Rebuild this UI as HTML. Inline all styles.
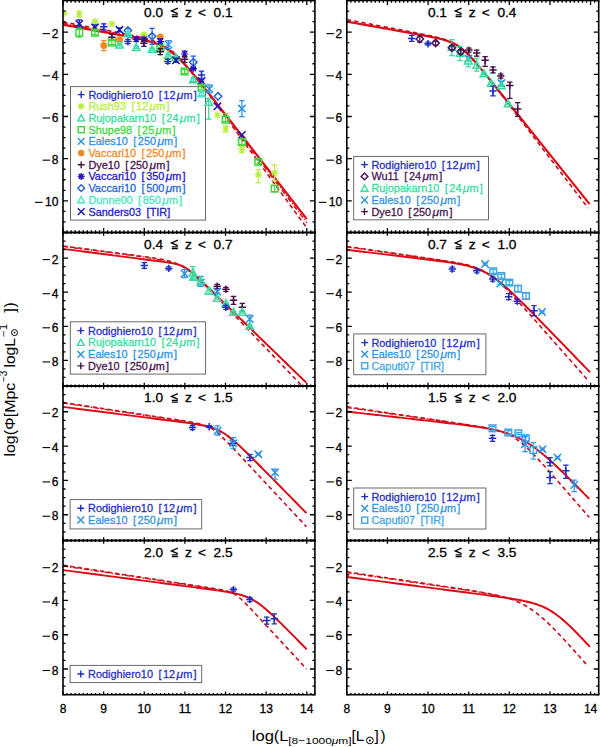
<!DOCTYPE html><html><head><meta charset="utf-8"><style>html,body{margin:0;padding:0;background:#fff;overflow:hidden}svg{display:block}</style></head><body><svg width="600" height="747" viewBox="0 0 600 747" font-family='"Liberation Sans", sans-serif'>
<rect width="600" height="747" fill="#fff"/>
<rect x="70.5" y="86.6" width="135" height="133.5" fill="none" stroke="#6a6a6a" stroke-width="1"/>
<path d="M77.8 94.6h6.8M81.2 91.2v6.8" stroke="#1f2ec0" stroke-width="1.4" fill="none"/>
<text transform="translate(88.4,98.5) scale(1.04,1)" font-size="10.5" fill="#1f2ec0" stroke="#1f2ec0" stroke-width="0.25">Rodighiero10<tspan dx="2.3"> [</tspan><tspan dx="1.5">12</tspan><tspan dx="1.3" font-size="11.5" font-style="italic">&#956;</tspan><tspan dx="0.1">m</tspan><tspan dx="1.1">]</tspan></text>
<path d="M77.8 106.3h6.8M81.2 102.9v6.8M78.75 103.85l4.9 4.9M78.75 108.75l4.9 -4.9" stroke="#b8ee40" stroke-width="1.4" fill="none"/>
<text transform="translate(88.4,110.2) scale(1.04,1)" font-size="10.5" fill="#b8ee40" stroke="#b8ee40" stroke-width="0.25">Rush93<tspan dx="2.3"> [</tspan><tspan dx="1.5">12</tspan><tspan dx="1.3" font-size="11.5" font-style="italic">&#956;</tspan><tspan dx="0.1">m</tspan><tspan dx="1.1">]</tspan></text>
<path d="M81.2 114.6L84.6 120.89H77.8Z" stroke="#36dca0" stroke-width="1.4" fill="none"/>
<text transform="translate(88.4,121.9) scale(1.04,1)" font-size="10.5" fill="#36dca0" stroke="#36dca0" stroke-width="0.25">Rujopakarn10<tspan dx="2.3"> [</tspan><tspan dx="1.5">24</tspan><tspan dx="1.3" font-size="11.5" font-style="italic">&#956;</tspan><tspan dx="0.1">m</tspan><tspan dx="1.1">]</tspan></text>
<rect x="78.14" y="126.64" width="6.12" height="6.12" stroke="#3cd83c" stroke-width="1.4" fill="none"/>
<text transform="translate(88.4,133.6) scale(1.04,1)" font-size="10.5" fill="#3cd83c" stroke="#3cd83c" stroke-width="0.25">Shupe98<tspan dx="2.3"> [</tspan><tspan dx="1.5">25</tspan><tspan dx="1.3" font-size="11.5" font-style="italic">&#956;</tspan><tspan dx="0.1">m</tspan><tspan dx="1.1">]</tspan></text>
<path d="M77.8 138l6.8 6.8M77.8 144.8l6.8 -6.8" stroke="#2c92e0" stroke-width="1.4" fill="none"/>
<text transform="translate(88.4,145.3) scale(1.04,1)" font-size="10.5" fill="#2c92e0" stroke="#2c92e0" stroke-width="0.25">Eales10<tspan dx="2.3"> [</tspan><tspan dx="1.5">250</tspan><tspan dx="1.3" font-size="11.5" font-style="italic">&#956;</tspan><tspan dx="0.1">m</tspan><tspan dx="1.1">]</tspan></text>
<circle cx="81.2" cy="153.1" r="3.23" fill="#f08a22"/>
<text transform="translate(88.4,157) scale(1.04,1)" font-size="10.5" fill="#f08a22" stroke="#f08a22" stroke-width="0.25">Vaccari10<tspan dx="2.3"> [</tspan><tspan dx="1.5">250</tspan><tspan dx="1.3" font-size="11.5" font-style="italic">&#956;</tspan><tspan dx="0.1">m</tspan><tspan dx="1.1">]</tspan></text>
<path d="M77.8 164.8h6.8M81.2 161.4v6.8" stroke="#461046" stroke-width="1.4" fill="none"/>
<text transform="translate(88.4,168.7) scale(1.04,1)" font-size="10.5" fill="#461046" stroke="#461046" stroke-width="0.25">Dye10<tspan dx="2.3"> [</tspan><tspan dx="1.5">250</tspan><tspan dx="1.3" font-size="11.5" font-style="italic">&#956;</tspan><tspan dx="0.1">m</tspan><tspan dx="1.1">]</tspan></text>
<path d="M77.8 176.5h6.8M81.2 173.1v6.8M78.75 174.05l4.9 4.9M78.75 178.95l4.9 -4.9" stroke="#2412c4" stroke-width="1.4" fill="none"/>
<text transform="translate(88.4,180.4) scale(1.04,1)" font-size="10.5" fill="#2412c4" stroke="#2412c4" stroke-width="0.25">Vaccari10<tspan dx="2.3"> [</tspan><tspan dx="1.5">350</tspan><tspan dx="1.3" font-size="11.5" font-style="italic">&#956;</tspan><tspan dx="0.1">m</tspan><tspan dx="1.1">]</tspan></text>
<path d="M81.2 184.8L84.6 188.2L81.2 191.6L77.8 188.2Z" stroke="#2462d4" stroke-width="1.4" fill="none"/>
<text transform="translate(88.4,192.1) scale(1.04,1)" font-size="10.5" fill="#2462d4" stroke="#2462d4" stroke-width="0.25">Vaccari10<tspan dx="2.3"> [</tspan><tspan dx="1.5">500</tspan><tspan dx="1.3" font-size="11.5" font-style="italic">&#956;</tspan><tspan dx="0.1">m</tspan><tspan dx="1.1">]</tspan></text>
<path d="M81.2 196.5L84.6 202.79H77.8Z" stroke="#44e6c4" stroke-width="1.4" fill="none"/>
<text transform="translate(88.4,203.8) scale(1.04,1)" font-size="10.5" fill="#44e6c4" stroke="#44e6c4" stroke-width="0.25">Dunne00<tspan dx="2.3"> [</tspan><tspan dx="1.5">850</tspan><tspan dx="1.3" font-size="11.5" font-style="italic">&#956;</tspan><tspan dx="0.1">m</tspan><tspan dx="1.1">]</tspan></text>
<path d="M77.8 208.2l6.8 6.8M77.8 215l6.8 -6.8" stroke="#1a1ab4" stroke-width="1.4" fill="none"/>
<text transform="translate(88.4,215.5) scale(1.04,1)" font-size="10.5" fill="#1a1ab4" stroke="#1a1ab4" stroke-width="0.25">Sanders03<tspan dx="2.3"> [TIR]</tspan></text>
<rect x="353.7" y="156.4" width="134.8" height="63.4" fill="none" stroke="#6a6a6a" stroke-width="1"/>
<path d="M361.1 164.6h6.8M364.5 161.2v6.8" stroke="#1f2ec0" stroke-width="1.4" fill="none"/>
<text transform="translate(371.4,168.5) scale(1.04,1)" font-size="10.5" fill="#1f2ec0" stroke="#1f2ec0" stroke-width="0.25">Rodighiero10<tspan dx="2.3"> [</tspan><tspan dx="1.5">12</tspan><tspan dx="1.3" font-size="11.5" font-style="italic">&#956;</tspan><tspan dx="0.1">m</tspan><tspan dx="1.1">]</tspan></text>
<path d="M364.5 173L367.9 176.4L364.5 179.8L361.1 176.4Z" stroke="#481458" stroke-width="1.4" fill="none"/>
<text transform="translate(371.4,180.3) scale(1.04,1)" font-size="10.5" fill="#481458" stroke="#481458" stroke-width="0.25">Wu11<tspan dx="2.3"> [</tspan><tspan dx="1.5">24</tspan><tspan dx="1.3" font-size="11.5" font-style="italic">&#956;</tspan><tspan dx="0.1">m</tspan><tspan dx="1.1">]</tspan></text>
<path d="M364.5 184.9L367.9 191.19H361.1Z" stroke="#36dca0" stroke-width="1.4" fill="none"/>
<text transform="translate(371.4,192.2) scale(1.04,1)" font-size="10.5" fill="#36dca0" stroke="#36dca0" stroke-width="0.25">Rujopakarn10<tspan dx="2.3"> [</tspan><tspan dx="1.5">24</tspan><tspan dx="1.3" font-size="11.5" font-style="italic">&#956;</tspan><tspan dx="0.1">m</tspan><tspan dx="1.1">]</tspan></text>
<path d="M361.1 196.6l6.8 6.8M361.1 203.4l6.8 -6.8" stroke="#2c92e0" stroke-width="1.4" fill="none"/>
<text transform="translate(371.4,203.9) scale(1.04,1)" font-size="10.5" fill="#2c92e0" stroke="#2c92e0" stroke-width="0.25">Eales10<tspan dx="2.3"> [</tspan><tspan dx="1.5">250</tspan><tspan dx="1.3" font-size="11.5" font-style="italic">&#956;</tspan><tspan dx="0.1">m</tspan><tspan dx="1.1">]</tspan></text>
<path d="M361.1 211.6h6.8M364.5 208.2v6.8" stroke="#461046" stroke-width="1.4" fill="none"/>
<text transform="translate(371.4,215.5) scale(1.04,1)" font-size="10.5" fill="#461046" stroke="#461046" stroke-width="0.25">Dye10<tspan dx="2.3"> [</tspan><tspan dx="1.5">250</tspan><tspan dx="1.3" font-size="11.5" font-style="italic">&#956;</tspan><tspan dx="0.1">m</tspan><tspan dx="1.1">]</tspan></text>
<rect x="70.3" y="321.8" width="135.3" height="52.3" fill="none" stroke="#6a6a6a" stroke-width="1"/>
<path d="M77.4 330.6h6.8M80.8 327.2v6.8" stroke="#1f2ec0" stroke-width="1.4" fill="none"/>
<text transform="translate(88.1,334.5) scale(1.04,1)" font-size="10.5" fill="#1f2ec0" stroke="#1f2ec0" stroke-width="0.25">Rodighiero10<tspan dx="2.3"> [</tspan><tspan dx="1.5">12</tspan><tspan dx="1.3" font-size="11.5" font-style="italic">&#956;</tspan><tspan dx="0.1">m</tspan><tspan dx="1.1">]</tspan></text>
<path d="M80.8 339.1L84.2 345.39H77.4Z" stroke="#36dca0" stroke-width="1.4" fill="none"/>
<text transform="translate(88.1,346.4) scale(1.04,1)" font-size="10.5" fill="#36dca0" stroke="#36dca0" stroke-width="0.25">Rujopakarn10<tspan dx="2.3"> [</tspan><tspan dx="1.5">24</tspan><tspan dx="1.3" font-size="11.5" font-style="italic">&#956;</tspan><tspan dx="0.1">m</tspan><tspan dx="1.1">]</tspan></text>
<path d="M77.4 350.9l6.8 6.8M77.4 357.7l6.8 -6.8" stroke="#2c92e0" stroke-width="1.4" fill="none"/>
<text transform="translate(88.1,358.2) scale(1.04,1)" font-size="10.5" fill="#2c92e0" stroke="#2c92e0" stroke-width="0.25">Eales10<tspan dx="2.3"> [</tspan><tspan dx="1.5">250</tspan><tspan dx="1.3" font-size="11.5" font-style="italic">&#956;</tspan><tspan dx="0.1">m</tspan><tspan dx="1.1">]</tspan></text>
<path d="M77.4 365.9h6.8M80.8 362.5v6.8" stroke="#461046" stroke-width="1.4" fill="none"/>
<text transform="translate(88.1,369.8) scale(1.04,1)" font-size="10.5" fill="#461046" stroke="#461046" stroke-width="0.25">Dye10<tspan dx="2.3"> [</tspan><tspan dx="1.5">250</tspan><tspan dx="1.3" font-size="11.5" font-style="italic">&#956;</tspan><tspan dx="0.1">m</tspan><tspan dx="1.1">]</tspan></text>
<rect x="353.7" y="333.9" width="132.2" height="40.8" fill="none" stroke="#6a6a6a" stroke-width="1"/>
<path d="M361.3 342.6h6.8M364.7 339.2v6.8" stroke="#1f2ec0" stroke-width="1.4" fill="none"/>
<text transform="translate(371.4,346.5) scale(1.04,1)" font-size="10.5" fill="#1f2ec0" stroke="#1f2ec0" stroke-width="0.25">Rodighiero10<tspan dx="2.3"> [</tspan><tspan dx="1.5">12</tspan><tspan dx="1.3" font-size="11.5" font-style="italic">&#956;</tspan><tspan dx="0.1">m</tspan><tspan dx="1.1">]</tspan></text>
<path d="M361.3 350.8l6.8 6.8M361.3 357.6l6.8 -6.8" stroke="#2c92e0" stroke-width="1.4" fill="none"/>
<text transform="translate(371.4,358.1) scale(1.04,1)" font-size="10.5" fill="#2c92e0" stroke="#2c92e0" stroke-width="0.25">Eales10<tspan dx="2.3"> [</tspan><tspan dx="1.5">250</tspan><tspan dx="1.3" font-size="11.5" font-style="italic">&#956;</tspan><tspan dx="0.1">m</tspan><tspan dx="1.1">]</tspan></text>
<rect x="361.64" y="362.74" width="6.12" height="6.12" stroke="#40a6e2" stroke-width="1.4" fill="none"/>
<text transform="translate(371.4,369.7) scale(1.04,1)" font-size="10.5" fill="#40a6e2" stroke="#40a6e2" stroke-width="0.25">Caputi07<tspan dx="2.3"> [TIR]</tspan></text>
<rect x="70.1" y="499.6" width="131.6" height="29.3" fill="none" stroke="#6a6a6a" stroke-width="1"/>
<path d="M77.4 508.2h6.8M80.8 504.8v6.8" stroke="#1f2ec0" stroke-width="1.4" fill="none"/>
<text transform="translate(88.1,512.1) scale(1.04,1)" font-size="10.5" fill="#1f2ec0" stroke="#1f2ec0" stroke-width="0.25">Rodighiero10<tspan dx="2.3"> [</tspan><tspan dx="1.5">12</tspan><tspan dx="1.3" font-size="11.5" font-style="italic">&#956;</tspan><tspan dx="0.1">m</tspan><tspan dx="1.1">]</tspan></text>
<path d="M77.4 516.6l6.8 6.8M77.4 523.4l6.8 -6.8" stroke="#2c92e0" stroke-width="1.4" fill="none"/>
<text transform="translate(88.1,523.9) scale(1.04,1)" font-size="10.5" fill="#2c92e0" stroke="#2c92e0" stroke-width="0.25">Eales10<tspan dx="2.3"> [</tspan><tspan dx="1.5">250</tspan><tspan dx="1.3" font-size="11.5" font-style="italic">&#956;</tspan><tspan dx="0.1">m</tspan><tspan dx="1.1">]</tspan></text>
<rect x="353.7" y="488" width="132.2" height="41" fill="none" stroke="#6a6a6a" stroke-width="1"/>
<path d="M361.3 496.6h6.8M364.7 493.2v6.8" stroke="#1f2ec0" stroke-width="1.4" fill="none"/>
<text transform="translate(371.4,500.5) scale(1.04,1)" font-size="10.5" fill="#1f2ec0" stroke="#1f2ec0" stroke-width="0.25">Rodighiero10<tspan dx="2.3"> [</tspan><tspan dx="1.5">12</tspan><tspan dx="1.3" font-size="11.5" font-style="italic">&#956;</tspan><tspan dx="0.1">m</tspan><tspan dx="1.1">]</tspan></text>
<path d="M361.3 505l6.8 6.8M361.3 511.8l6.8 -6.8" stroke="#2c92e0" stroke-width="1.4" fill="none"/>
<text transform="translate(371.4,512.3) scale(1.04,1)" font-size="10.5" fill="#2c92e0" stroke="#2c92e0" stroke-width="0.25">Eales10<tspan dx="2.3"> [</tspan><tspan dx="1.5">250</tspan><tspan dx="1.3" font-size="11.5" font-style="italic">&#956;</tspan><tspan dx="0.1">m</tspan><tspan dx="1.1">]</tspan></text>
<rect x="361.64" y="517.14" width="6.12" height="6.12" stroke="#40a6e2" stroke-width="1.4" fill="none"/>
<text transform="translate(371.4,524.1) scale(1.04,1)" font-size="10.5" fill="#40a6e2" stroke="#40a6e2" stroke-width="0.25">Caputi07<tspan dx="2.3"> [TIR]</tspan></text>
<rect x="70.1" y="665.4" width="131.6" height="17.2" fill="none" stroke="#6a6a6a" stroke-width="1"/>
<path d="M77.4 674h6.8M80.8 670.6v6.8" stroke="#1f2ec0" stroke-width="1.4" fill="none"/>
<text transform="translate(88.1,677.9) scale(1.04,1)" font-size="10.5" fill="#1f2ec0" stroke="#1f2ec0" stroke-width="0.25">Rodighiero10<tspan dx="2.3"> [</tspan><tspan dx="1.5">12</tspan><tspan dx="1.3" font-size="11.5" font-style="italic">&#956;</tspan><tspan dx="0.1">m</tspan><tspan dx="1.1">]</tspan></text>
<clipPath id="c00"><rect x="63" y="0.5" width="251.91" height="232"/></clipPath>
<g clip-path="url(#c00)">
<path d="M63 24.73 L65 25.09 L67 25.45 L69 25.81 L71 26.17 L73 26.53 L75 26.89 L77 27.25 L79 27.61 L81 27.97 L83 28.33 L85 28.69 L87 29.05 L89 29.41 L91 29.78 L93 30.14 L95 30.5 L97 30.86 L99 31.22 L101 31.58 L103 31.94 L105 32.3 L107 32.67 L109 33.03 L111 33.4 L113 33.76 L115 34.13 L117 34.5 L119 34.87 L121 35.24 L123 35.61 L125 35.99 L127 36.37 L129 36.76 L131 37.16 L133 37.56 L135 37.97 L137 38.39 L139 38.83 L141 39.28 L143 39.75 L145 40.25 L147 40.77 L149 41.33 L151 41.93 L153 42.57 L155 43.27 L157 44.04 L159 44.87 L161 45.79 L163 46.8 L165 47.9 L167 49.11 L169 50.43 L171 51.86 L173 53.41 L175 55.06 L177 56.83 L179 58.69 L181 60.65 L183 62.7 L185 64.82 L187 67.01 L189 69.26 L191 71.57 L193 73.92 L195 76.3 L197 78.72 L199 81.16 L201 83.63 L203 86.12 L205 88.62 L207 91.13 L209 93.65 L211 96.18 L213 98.72 L215 101.27 L217 103.82 L219 106.37 L221 108.93 L223 111.48 L225 114.04 L227 116.61 L229 119.17 L231 121.74 L233 124.3 L235 126.87 L237 129.44 L239 132 L241 134.57 L243 137.14 L245 139.71 L247 142.28 L249 144.85 L251 147.42 L253 149.99 L255 152.56 L257 155.13 L259 157.7 L261 160.27 L263 162.83 L265 165.4 L267 167.97 L269 170.54 L271 173.11 L273 175.68 L275 178.25 L277 180.82 L279 183.39 L281 185.96 L283 188.53 L285 191.1 L287 193.67 L289 196.24 L291 198.81 L293 201.38 L295 203.95 L297 206.52 L299 209.09 L301 211.66 L303 214.23 L305 216.8 L306.8 219.12" stroke="#dc0c16" stroke-width="2.2" fill="none" stroke-linejoin="round"/>
<path d="M63 21.98 L65 22.36 L67 22.74 L69 23.12 L71 23.5 L73 23.88 L75 24.26 L77 24.64 L79 25.02 L81 25.4 L83 25.78 L85 26.16 L87 26.54 L89 26.92 L91 27.3 L93 27.68 L95 28.06 L97 28.45 L99 28.83 L101 29.21 L103 29.59 L105 29.97 L107 30.36 L109 30.74 L111 31.12 L113 31.51 L115 31.9 L117 32.28 L119 32.68 L121 33.07 L123 33.46 L125 33.86 L127 34.26 L129 34.67 L131 35.09 L133 35.51 L135 35.94 L137 36.39 L139 36.84 L141 37.32 L143 37.81 L145 38.33 L147 38.88 L149 39.46 L151 40.09 L153 40.76 L155 41.49 L157 42.28 L159 43.16 L161 44.11 L163 45.16 L165 46.31 L167 47.57 L169 48.95 L171 50.44 L173 52.06 L175 53.79 L177 55.64 L179 57.6 L181 59.66 L183 61.82 L185 64.05 L187 66.37 L189 68.75 L191 71.19 L193 73.67 L195 76.2 L197 78.76 L199 81.35 L201 83.97 L203 86.6 L205 89.26 L207 91.92 L209 94.6 L211 97.29 L213 99.98 L215 102.68 L217 105.39 L219 108.1 L221 110.82 L223 113.54 L225 116.25 L227 118.98 L229 121.7 L231 124.42 L233 127.15 L235 129.88 L237 132.6 L239 135.33 L241 138.06 L243 140.79 L245 143.52 L247 146.24 L249 148.97 L251 151.7 L253 154.43 L255 157.16 L257 159.89 L259 162.62 L261 165.35 L263 168.08 L265 170.81 L267 173.54 L269 176.27 L271 179 L273 181.73 L275 184.46 L277 187.19 L279 189.92 L281 192.65 L283 195.38 L285 198.11 L287 200.84 L289 203.57 L291 206.3 L293 209.03 L295 211.76 L297 214.49 L299 217.22 L301 219.95 L303 222.68 L305 225.41 L306.8 227.87" stroke="#c80c1a" stroke-width="1.6" fill="none" stroke-dasharray="4.3 3.2"/>
<path d="M63 23.36 L65 23.73 L67 24.1 L69 24.47 L71 24.84 L73 25.21 L75 25.58 L77 25.95 L79 26.32 L81 26.69 L83 27.06 L85 27.43 L87 27.8 L89 28.17 L91 28.54 L93 28.91 L95 29.28 L97 29.65 L99 30.02 L101 30.4 L103 30.77 L105 31.14 L107 31.51 L109 31.89 L111 32.26 L113 32.64 L115 33.01 L117 33.39 L119 33.77 L121 34.15 L123 34.54 L125 34.93 L127 35.32 L129 35.72 L131 36.12 L133 36.53 L135 36.95 L137 37.39 L139 37.83 L141 38.3 L143 38.78 L145 39.29 L147 39.82 L149 40.39 L151 41 L153 41.66 L155 42.37 L157 43.15 L159 44 L161 44.94 L163 45.96 L165 47.09 L167 48.32 L169 49.66 L171 51.12 L173 52.7 L175 54.39 L177 56.19 L179 58.09 L181 60.1 L183 62.19 L185 64.36 L187 66.61 L189 68.92 L191 71.28 L193 73.68 L195 76.13 L197 78.61 L199 81.12 L201 83.65 L203 86.2 L205 88.77 L207 91.35 L209 93.94 L211 96.54 L213 99.15 L215 101.76 L217 104.38 L219 107 L221 109.63 L223 112.26 L225 114.89 L227 117.52 L229 120.15 L231 122.79 L233 125.42 L235 128.06 L237 130.7 L239 133.33 L241 135.97 L243 138.61 L245 141.25 L247 143.89 L249 146.53 L251 149.17 L253 151.81 L255 154.45 L257 157.09 L259 159.73 L261 162.37 L263 165 L265 167.64 L267 170.28 L269 172.92 L271 175.56 L273 178.2 L275 180.84 L277 183.48 L279 186.12 L281 188.76 L283 191.4 L285 194.04 L287 196.68 L289 199.32 L291 201.96 L293 204.6 L295 207.24 L297 209.88 L299 212.52 L301 215.16 L303 217.8 L305 220.44 L306.8 222.82" stroke="#dc0c16" stroke-width="1.5" fill="none" stroke-dasharray="5 2 1 2"/>
<path d="M60.4 13.1h7.4M64.1 9.4v7.4M61.44 10.44l5.33 5.33M61.44 15.76l5.33 -5.33" stroke="#b8ee40" stroke-width="1.2" fill="none"/>
<path d="M79.3 11V17M76.6 11h5.4M76.6 17h5.4" stroke="#b8ee40" stroke-width="1.25" fill="none"/>
<path d="M75.6 14h7.4M79.3 10.3v7.4M76.64 11.34l5.33 5.33M76.64 16.66l5.33 -5.33" stroke="#b8ee40" stroke-width="1.2" fill="none"/>
<path d="M79.3 19.9V27.9M76.6 19.9h5.4M76.6 27.9h5.4" stroke="#1a1ab4" stroke-width="1.25" fill="none"/>
<path d="M75.6 20.2l7.4 7.4M75.6 27.6l7.4 -7.4" stroke="#1a1ab4" stroke-width="1.5" fill="none"/>
<path d="M79.3 28.2V37.2M76.6 28.2h5.4M76.6 37.2h5.4" stroke="#3cd83c" stroke-width="1.25" fill="none"/>
<rect x="75.97" y="29.37" width="6.66" height="6.66" stroke="#3cd83c" stroke-width="1.5" fill="none"/>
<path d="M95 20.1V23.1M92.3 20.1h5.4M92.3 23.1h5.4" stroke="#b8ee40" stroke-width="1.25" fill="none"/>
<path d="M91.3 21.6h7.4M95 17.9v7.4M92.34 18.94l5.33 5.33M92.34 24.26l5.33 -5.33" stroke="#b8ee40" stroke-width="1.2" fill="none"/>
<path d="M95 24.9V29.9M92.3 24.9h5.4M92.3 29.9h5.4" stroke="#1a1ab4" stroke-width="1.25" fill="none"/>
<path d="M91.3 23.7l7.4 7.4M91.3 31.1l7.4 -7.4" stroke="#1a1ab4" stroke-width="1.5" fill="none"/>
<path d="M95 30.7V34.7M92.3 30.7h5.4M92.3 34.7h5.4" stroke="#3cd83c" stroke-width="1.25" fill="none"/>
<rect x="91.67" y="29.37" width="6.66" height="6.66" stroke="#3cd83c" stroke-width="1.5" fill="none"/>
<path d="M103.8 23.8V29.8M101.1 23.8h5.4M101.1 29.8h5.4" stroke="#1f2ec0" stroke-width="1.25" fill="none"/>
<path d="M100.1 26.8h7.4M103.8 23.1v7.4" stroke="#1f2ec0" stroke-width="1.5" fill="none"/>
<path d="M103.8 40.5V50.5M101.1 40.5h5.4M101.1 50.5h5.4" stroke="#f08a22" stroke-width="1.25" fill="none"/>
<circle cx="103.8" cy="45.5" r="3.52" fill="#f08a22"/>
<path d="M108.2 23.9h7.4M111.9 20.2v7.4M109.24 21.24l5.33 5.33M109.24 26.56l5.33 -5.33" stroke="#b8ee40" stroke-width="1.2" fill="none"/>
<path d="M111.9 34.3V40.3M109.2 34.3h5.4M109.2 40.3h5.4" stroke="#461046" stroke-width="1.25" fill="none"/>
<path d="M108.2 37.3h7.4M111.9 33.6v7.4" stroke="#461046" stroke-width="1.5" fill="none"/>
<path d="M111.9 40.6V44.6M109.2 40.6h5.4M109.2 44.6h5.4" stroke="#3cd83c" stroke-width="1.25" fill="none"/>
<rect x="108.57" y="39.27" width="6.66" height="6.66" stroke="#3cd83c" stroke-width="1.5" fill="none"/>
<path d="M119.5 27.8V31.8M116.8 27.8h5.4M116.8 31.8h5.4" stroke="#1a1ab4" stroke-width="1.25" fill="none"/>
<path d="M115.8 26.1l7.4 7.4M115.8 33.5l7.4 -7.4" stroke="#1a1ab4" stroke-width="1.5" fill="none"/>
<path d="M119.5 37.7V41.7M116.8 37.7h5.4M116.8 41.7h5.4" stroke="#f08a22" stroke-width="1.25" fill="none"/>
<circle cx="119.5" cy="39.7" r="3.52" fill="#f08a22"/>
<path d="M119.5 43.9V45.9M116.8 43.9h5.4M116.8 45.9h5.4" stroke="#36dca0" stroke-width="1.25" fill="none"/>
<path d="M119.5 41.2L123.2 48.05H115.8Z" stroke="#36dca0" stroke-width="1.5" fill="none"/>
<path d="M127.9 28.5V32.5M125.2 28.5h5.4M125.2 32.5h5.4" stroke="#2462d4" stroke-width="1.25" fill="none"/>
<path d="M127.9 26.8L131.6 30.5L127.9 34.2L124.2 30.5Z" stroke="#2462d4" stroke-width="1.5" fill="none"/>
<path d="M127.9 32.5V34.5M125.2 32.5h5.4M125.2 34.5h5.4" stroke="#44e6c4" stroke-width="1.25" fill="none"/>
<path d="M127.9 29.8L131.6 36.65H124.2Z" stroke="#44e6c4" stroke-width="1.5" fill="none"/>
<path d="M127.9 39.6V43.6M125.2 39.6h5.4M125.2 43.6h5.4" stroke="#1f2ec0" stroke-width="1.25" fill="none"/>
<path d="M124.2 41.6h7.4M127.9 37.9v7.4" stroke="#1f2ec0" stroke-width="1.5" fill="none"/>
<path d="M136.3 37.3V41.3M133.6 37.3h5.4M133.6 41.3h5.4" stroke="#2412c4" stroke-width="1.25" fill="none"/>
<path d="M132.6 39.3h7.4M136.3 35.6v7.4M133.64 36.64l5.33 5.33M133.64 41.96l5.33 -5.33" stroke="#2412c4" stroke-width="1.2" fill="none"/>
<path d="M136.3 46.4V48.4M133.6 46.4h5.4M133.6 48.4h5.4" stroke="#36dca0" stroke-width="1.25" fill="none"/>
<path d="M136.3 43.7L140 50.55H132.6Z" stroke="#36dca0" stroke-width="1.5" fill="none"/>
<path d="M143.9 33.6V35.6M141.2 33.6h5.4M141.2 35.6h5.4" stroke="#b8ee40" stroke-width="1.25" fill="none"/>
<path d="M140.2 34.6h7.4M143.9 30.9v7.4M141.24 31.94l5.33 5.33M141.24 37.26l5.33 -5.33" stroke="#b8ee40" stroke-width="1.2" fill="none"/>
<path d="M143.9 37.3V41.3M141.2 37.3h5.4M141.2 41.3h5.4" stroke="#2412c4" stroke-width="1.25" fill="none"/>
<path d="M140.2 39.3h7.4M143.9 35.6v7.4M141.24 36.64l5.33 5.33M141.24 41.96l5.33 -5.33" stroke="#2412c4" stroke-width="1.2" fill="none"/>
<path d="M143.9 40.3V46.3M141.2 40.3h5.4M141.2 46.3h5.4" stroke="#461046" stroke-width="1.25" fill="none"/>
<path d="M140.2 43.3h7.4M143.9 39.6v7.4" stroke="#461046" stroke-width="1.5" fill="none"/>
<path d="M152.1 28.3V44.3M149.4 28.3h5.4M149.4 44.3h5.4" stroke="#2462d4" stroke-width="1.25" fill="none"/>
<path d="M152.1 32.6L155.8 36.3L152.1 40L148.4 36.3Z" stroke="#2462d4" stroke-width="1.5" fill="none"/>
<path d="M152.1 48.2V50.2M149.4 48.2h5.4M149.4 50.2h5.4" stroke="#36dca0" stroke-width="1.25" fill="none"/>
<path d="M152.1 45.5L155.8 52.35H148.4Z" stroke="#36dca0" stroke-width="1.5" fill="none"/>
<circle cx="160.3" cy="36.9" r="3.52" fill="#f08a22"/>
<path d="M160.3 38.6V44.6M157.6 38.6h5.4M157.6 44.6h5.4" stroke="#2412c4" stroke-width="1.25" fill="none"/>
<path d="M156.6 41.6h7.4M160.3 37.9v7.4M157.64 38.94l5.33 5.33M157.64 44.26l5.33 -5.33" stroke="#2412c4" stroke-width="1.2" fill="none"/>
<path d="M160.3 47.5V49.5M157.6 47.5h5.4M157.6 49.5h5.4" stroke="#3cd83c" stroke-width="1.25" fill="none"/>
<rect x="156.97" y="45.17" width="6.66" height="6.66" stroke="#3cd83c" stroke-width="1.5" fill="none"/>
<path d="M160.3 48.5V54.5M157.6 48.5h5.4M157.6 54.5h5.4" stroke="#461046" stroke-width="1.25" fill="none"/>
<path d="M156.6 51.5h7.4M160.3 47.8v7.4" stroke="#461046" stroke-width="1.5" fill="none"/>
<path d="M168.4 40.5V48.5M165.7 40.5h5.4M165.7 48.5h5.4" stroke="#2c92e0" stroke-width="1.25" fill="none"/>
<path d="M164.7 40.8l7.4 7.4M164.7 48.2l7.4 -7.4" stroke="#2c92e0" stroke-width="1.5" fill="none"/>
<path d="M168.4 54V56M165.7 54h5.4M165.7 56h5.4" stroke="#36dca0" stroke-width="1.25" fill="none"/>
<path d="M168.4 51.3L172.1 58.15H164.7Z" stroke="#36dca0" stroke-width="1.5" fill="none"/>
<path d="M167.8 59.4V63.4M165.1 59.4h5.4M165.1 63.4h5.4" stroke="#1f2ec0" stroke-width="1.25" fill="none"/>
<path d="M164.1 61.4h7.4M167.8 57.7v7.4" stroke="#1f2ec0" stroke-width="1.5" fill="none"/>
<path d="M175.8 56.5V58.5M173.1 56.5h5.4M173.1 58.5h5.4" stroke="#36dca0" stroke-width="1.25" fill="none"/>
<path d="M175.8 53.8L179.5 60.65H172.1Z" stroke="#36dca0" stroke-width="1.5" fill="none"/>
<path d="M176 58.3V62.3M173.3 58.3h5.4M173.3 62.3h5.4" stroke="#1a1ab4" stroke-width="1.25" fill="none"/>
<path d="M172.3 56.6l7.4 7.4M172.3 64l7.4 -7.4" stroke="#1a1ab4" stroke-width="1.5" fill="none"/>
<path d="M184.6 51V57M181.9 51h5.4M181.9 57h5.4" stroke="#2412c4" stroke-width="1.25" fill="none"/>
<path d="M180.9 54h7.4M184.6 50.3v7.4M181.94 51.34l5.33 5.33M181.94 56.66l5.33 -5.33" stroke="#2412c4" stroke-width="1.2" fill="none"/>
<path d="M184.6 56.3V62.3M181.9 56.3h5.4M181.9 62.3h5.4" stroke="#461046" stroke-width="1.25" fill="none"/>
<path d="M180.9 59.3h7.4M184.6 55.6v7.4" stroke="#461046" stroke-width="1.5" fill="none"/>
<path d="M184.6 69.5V73.5M181.9 69.5h5.4M181.9 73.5h5.4" stroke="#3cd83c" stroke-width="1.25" fill="none"/>
<rect x="181.27" y="68.17" width="6.66" height="6.66" stroke="#3cd83c" stroke-width="1.5" fill="none"/>
<path d="M193.3 56.2V68.2M190.6 56.2h5.4M190.6 68.2h5.4" stroke="#2462d4" stroke-width="1.25" fill="none"/>
<path d="M193.3 58.5L197 62.2L193.3 65.9L189.6 62.2Z" stroke="#2462d4" stroke-width="1.5" fill="none"/>
<path d="M193.3 67.6V69.6M190.6 67.6h5.4M190.6 69.6h5.4" stroke="#2412c4" stroke-width="1.25" fill="none"/>
<path d="M189.6 68.6h7.4M193.3 64.9v7.4M190.64 65.94l5.33 5.33M190.64 71.26l5.33 -5.33" stroke="#2412c4" stroke-width="1.2" fill="none"/>
<path d="M193.3 77.7V81.7M190.6 77.7h5.4M190.6 81.7h5.4" stroke="#36dca0" stroke-width="1.25" fill="none"/>
<path d="M193.3 76L197 82.84H189.6Z" stroke="#36dca0" stroke-width="1.5" fill="none"/>
<path d="M201.5 71V79M198.8 71h5.4M198.8 79h5.4" stroke="#1f2ec0" stroke-width="1.25" fill="none"/>
<path d="M197.8 75h7.4M201.5 71.3v7.4" stroke="#1f2ec0" stroke-width="1.5" fill="none"/>
<path d="M201.5 79.8V81.8M198.8 79.8h5.4M198.8 81.8h5.4" stroke="#1a1ab4" stroke-width="1.25" fill="none"/>
<path d="M197.8 77.1l7.4 7.4M197.8 84.5l7.4 -7.4" stroke="#1a1ab4" stroke-width="1.5" fill="none"/>
<path d="M201.5 85.8V89.8M198.8 85.8h5.4M198.8 89.8h5.4" stroke="#3cd83c" stroke-width="1.25" fill="none"/>
<rect x="198.17" y="84.47" width="6.66" height="6.66" stroke="#3cd83c" stroke-width="1.5" fill="none"/>
<path d="M201.5 91.7V95.7M198.8 91.7h5.4M198.8 95.7h5.4" stroke="#44e6c4" stroke-width="1.25" fill="none"/>
<path d="M201.5 90L205.2 96.84H197.8Z" stroke="#44e6c4" stroke-width="1.5" fill="none"/>
<path d="M209.3 84.8V92.8M206.6 84.8h5.4M206.6 92.8h5.4" stroke="#2c92e0" stroke-width="1.25" fill="none"/>
<path d="M205.6 85.1l7.4 7.4M205.6 92.5l7.4 -7.4" stroke="#2c92e0" stroke-width="1.5" fill="none"/>
<path d="M218 92.6L221.7 96.3L218 100L214.3 96.3Z" stroke="#2462d4" stroke-width="1.5" fill="none"/>
<path d="M208.7 98.7V119.2M206 98.7h5.4M206 119.2h5.4" stroke="#36dca0" stroke-width="1.25" fill="none"/>
<path d="M208.7 98.5L212.4 105.34H205Z" stroke="#36dca0" stroke-width="1.5" fill="none"/>
<path d="M213.7 102.6l7.4 7.4M213.7 110l7.4 -7.4" stroke="#1a1ab4" stroke-width="1.5" fill="none"/>
<path d="M213.7 115h7.4M217.4 111.3v7.4M214.74 112.34l5.33 5.33M214.74 117.66l5.33 -5.33" stroke="#b8ee40" stroke-width="1.2" fill="none"/>
<path d="M225.6 113.7V121.7M222.9 113.7h5.4M222.9 121.7h5.4" stroke="#3cd83c" stroke-width="1.25" fill="none"/>
<rect x="222.27" y="116.37" width="6.66" height="6.66" stroke="#3cd83c" stroke-width="1.5" fill="none"/>
<path d="M225.6 126V132M222.9 126h5.4M222.9 132h5.4" stroke="#b8ee40" stroke-width="1.25" fill="none"/>
<path d="M221.9 129h7.4M225.6 125.3v7.4M222.94 126.34l5.33 5.33M222.94 131.66l5.33 -5.33" stroke="#b8ee40" stroke-width="1.2" fill="none"/>
<path d="M241.9 100.6V116.6M239.2 100.6h5.4M239.2 116.6h5.4" stroke="#2c92e0" stroke-width="1.25" fill="none"/>
<path d="M238.2 104.9l7.4 7.4M238.2 112.3l7.4 -7.4" stroke="#2c92e0" stroke-width="1.5" fill="none"/>
<path d="M238.2 131.2l7.4 7.4M238.2 138.6l7.4 -7.4" stroke="#1a1ab4" stroke-width="1.5" fill="none"/>
<path d="M241.9 138.9V144.9M239.2 138.9h5.4M239.2 144.9h5.4" stroke="#3cd83c" stroke-width="1.25" fill="none"/>
<rect x="238.57" y="138.57" width="6.66" height="6.66" stroke="#3cd83c" stroke-width="1.5" fill="none"/>
<path d="M241.9 146.5V152.5M239.2 146.5h5.4M239.2 152.5h5.4" stroke="#b8ee40" stroke-width="1.25" fill="none"/>
<path d="M238.2 149.5h7.4M241.9 145.8v7.4M239.24 146.84l5.33 5.33M239.24 152.16l5.33 -5.33" stroke="#b8ee40" stroke-width="1.2" fill="none"/>
<path d="M258.3 159.8V163.8M255.6 159.8h5.4M255.6 163.8h5.4" stroke="#3cd83c" stroke-width="1.25" fill="none"/>
<rect x="254.97" y="158.47" width="6.66" height="6.66" stroke="#3cd83c" stroke-width="1.5" fill="none"/>
<path d="M258.3 169.6V182.6M255.6 169.6h5.4M255.6 182.6h5.4" stroke="#b8ee40" stroke-width="1.25" fill="none"/>
<path d="M254.6 174.6h7.4M258.3 170.9v7.4M255.64 171.94l5.33 5.33M255.64 177.26l5.33 -5.33" stroke="#b8ee40" stroke-width="1.2" fill="none"/>
<path d="M274.6 164.8V180.8M271.9 164.8h5.4M271.9 180.8h5.4" stroke="#b8ee40" stroke-width="1.25" fill="none"/>
<path d="M270.9 172.8h7.4M274.6 169.1v7.4M271.94 170.14l5.33 5.33M271.94 175.46l5.33 -5.33" stroke="#b8ee40" stroke-width="1.2" fill="none"/>
<path d="M274.6 185.6V191.6M271.9 185.6h5.4M271.9 191.6h5.4" stroke="#3cd83c" stroke-width="1.25" fill="none"/>
<rect x="271.27" y="185.27" width="6.66" height="6.66" stroke="#3cd83c" stroke-width="1.5" fill="none"/>
</g>
<clipPath id="c10"><rect x="346.8" y="0.5" width="251.91" height="232"/></clipPath>
<g clip-path="url(#c10)">
<path d="M346.8 21.59 L348.8 21.95 L350.8 22.31 L352.8 22.67 L354.8 23.03 L356.8 23.39 L358.8 23.75 L360.8 24.11 L362.8 24.47 L364.8 24.83 L366.8 25.19 L368.8 25.55 L370.8 25.91 L372.8 26.27 L374.8 26.63 L376.8 26.99 L378.8 27.35 L380.8 27.71 L382.8 28.07 L384.8 28.43 L386.8 28.79 L388.8 29.15 L390.8 29.51 L392.8 29.87 L394.8 30.23 L396.8 30.59 L398.8 30.95 L400.8 31.31 L402.8 31.68 L404.8 32.04 L406.8 32.4 L408.8 32.76 L410.8 33.12 L412.8 33.48 L414.8 33.85 L416.8 34.21 L418.8 34.58 L420.8 34.95 L422.8 35.32 L424.8 35.69 L426.8 36.07 L428.8 36.45 L430.8 36.84 L432.8 37.24 L434.8 37.66 L436.8 38.09 L438.8 38.54 L440.8 39.02 L442.8 39.54 L444.8 40.11 L446.8 40.73 L448.8 41.43 L450.8 42.21 L452.8 43.1 L454.8 44.1 L456.8 45.24 L458.8 46.53 L460.8 47.96 L462.8 49.55 L464.8 51.27 L466.8 53.13 L468.8 55.11 L470.8 57.19 L472.8 59.36 L474.8 61.6 L476.8 63.89 L478.8 66.24 L480.8 68.61 L482.8 71.02 L484.8 73.45 L486.8 75.89 L488.8 78.35 L490.8 80.81 L492.8 83.29 L494.8 85.77 L496.8 88.25 L498.8 90.74 L500.8 93.23 L502.8 95.72 L504.8 98.21 L506.8 100.71 L508.8 103.2 L510.8 105.7 L512.8 108.19 L514.8 110.69 L516.8 113.18 L518.8 115.68 L520.8 118.18 L522.8 120.67 L524.8 123.17 L526.8 125.67 L528.8 128.16 L530.8 130.66 L532.8 133.16 L534.8 135.65 L536.8 138.15 L538.8 140.65 L540.8 143.15 L542.8 145.64 L544.8 148.14 L546.8 150.64 L548.8 153.13 L550.8 155.63 L552.8 158.13 L554.8 160.62 L556.8 163.12 L558.8 165.62 L560.8 168.12 L562.8 170.61 L564.8 173.11 L566.8 175.61 L568.8 178.1 L570.8 180.6 L572.8 183.1 L574.8 185.59 L576.8 188.09 L578.8 190.59 L580.8 193.09 L582.8 195.58 L584.8 198.08 L586.8 200.58 L588.8 203.07 L589.6 204.07" stroke="#dc0c16" stroke-width="2.2" fill="none" stroke-linejoin="round"/>
<path d="M346.8 19.55 L348.8 19.93 L350.8 20.31 L352.8 20.69 L354.8 21.08 L356.8 21.46 L358.8 21.84 L360.8 22.22 L362.8 22.61 L364.8 22.99 L366.8 23.37 L368.8 23.75 L370.8 24.14 L372.8 24.52 L374.8 24.9 L376.8 25.29 L378.8 25.67 L380.8 26.05 L382.8 26.43 L384.8 26.82 L386.8 27.2 L388.8 27.58 L390.8 27.96 L392.8 28.35 L394.8 28.73 L396.8 29.11 L398.8 29.5 L400.8 29.88 L402.8 30.27 L404.8 30.65 L406.8 31.04 L408.8 31.42 L410.8 31.81 L412.8 32.2 L414.8 32.59 L416.8 32.98 L418.8 33.37 L420.8 33.77 L422.8 34.17 L424.8 34.57 L426.8 34.99 L428.8 35.41 L430.8 35.84 L432.8 36.28 L434.8 36.74 L436.8 37.22 L438.8 37.73 L440.8 38.27 L442.8 38.85 L444.8 39.49 L446.8 40.18 L448.8 40.94 L450.8 41.79 L452.8 42.74 L454.8 43.8 L456.8 44.98 L458.8 46.29 L460.8 47.74 L462.8 49.33 L464.8 51.05 L466.8 52.9 L468.8 54.87 L470.8 56.95 L472.8 59.12 L474.8 61.38 L476.8 63.7 L478.8 66.08 L480.8 68.51 L482.8 70.97 L484.8 73.47 L486.8 75.99 L488.8 78.54 L490.8 81.09 L492.8 83.66 L494.8 86.24 L496.8 88.83 L498.8 91.42 L500.8 94.02 L502.8 96.62 L504.8 99.23 L506.8 101.83 L508.8 104.44 L510.8 107.05 L512.8 109.66 L514.8 112.28 L516.8 114.89 L518.8 117.5 L520.8 120.12 L522.8 122.73 L524.8 125.34 L526.8 127.96 L528.8 130.57 L530.8 133.19 L532.8 135.8 L534.8 138.42 L536.8 141.03 L538.8 143.65 L540.8 146.26 L542.8 148.88 L544.8 151.49 L546.8 154.11 L548.8 156.72 L550.8 159.34 L552.8 161.95 L554.8 164.57 L556.8 167.18 L558.8 169.8 L560.8 172.41 L562.8 175.03 L564.8 177.64 L566.8 180.26 L568.8 182.87 L570.8 185.49 L572.8 188.1 L574.8 190.72 L576.8 193.33 L578.8 195.95 L580.8 198.56 L582.8 201.18 L584.8 203.79 L586.8 206.41 L588 207.98" stroke="#c80c1a" stroke-width="1.6" fill="none" stroke-dasharray="4.3 3.2"/>
<path d="M411.7 35.4V41.4M409 35.4h5.4M409 41.4h5.4" stroke="#1f2ec0" stroke-width="1.25" fill="none"/>
<path d="M408 38.4h7.4M411.7 34.7v7.4" stroke="#1f2ec0" stroke-width="1.5" fill="none"/>
<path d="M419.8 36V42M417.1 36h5.4M417.1 42h5.4" stroke="#481458" stroke-width="1.25" fill="none"/>
<path d="M419.8 35.3L423.5 39L419.8 42.7L416.1 39Z" stroke="#481458" stroke-width="1.5" fill="none"/>
<path d="M428 42.2V45.2M425.3 42.2h5.4M425.3 45.2h5.4" stroke="#1f2ec0" stroke-width="1.25" fill="none"/>
<path d="M424.3 43.7h7.4M428 40v7.4" stroke="#1f2ec0" stroke-width="1.5" fill="none"/>
<path d="M435.6 41.1V45.1M432.9 41.1h5.4M432.9 45.1h5.4" stroke="#481458" stroke-width="1.25" fill="none"/>
<path d="M435.6 39.4L439.3 43.1L435.6 46.8L431.9 43.1Z" stroke="#481458" stroke-width="1.5" fill="none"/>
<path d="M451.9 39.7V55.7M449.2 39.7h5.4M449.2 55.7h5.4" stroke="#36dca0" stroke-width="1.25" fill="none"/>
<path d="M451.9 43.5L455.6 50.35H448.2Z" stroke="#36dca0" stroke-width="1.5" fill="none"/>
<path d="M451.9 45.8V49.8M449.2 45.8h5.4M449.2 49.8h5.4" stroke="#481458" stroke-width="1.25" fill="none"/>
<path d="M451.9 44.1L455.6 47.8L451.9 51.5L448.2 47.8Z" stroke="#481458" stroke-width="1.5" fill="none"/>
<path d="M460 46.4V60.6M457.3 46.4h5.4M457.3 60.6h5.4" stroke="#36dca0" stroke-width="1.25" fill="none"/>
<path d="M460 49.3L463.7 56.15H456.3Z" stroke="#36dca0" stroke-width="1.5" fill="none"/>
<path d="M460.7 49.8V53.8M458 49.8h5.4M458 53.8h5.4" stroke="#481458" stroke-width="1.25" fill="none"/>
<path d="M460.7 48.1L464.4 51.8L460.7 55.5L457 51.8Z" stroke="#481458" stroke-width="1.5" fill="none"/>
<path d="M468.9 48.1V52.1M466.2 48.1h5.4M466.2 52.1h5.4" stroke="#461046" stroke-width="1.25" fill="none"/>
<path d="M465.2 50.1h7.4M468.9 46.4v7.4" stroke="#461046" stroke-width="1.5" fill="none"/>
<path d="M468.3 56.5V60.5M465.6 56.5h5.4M465.6 60.5h5.4" stroke="#2c92e0" stroke-width="1.25" fill="none"/>
<path d="M464.6 54.8l7.4 7.4M464.6 62.2l7.4 -7.4" stroke="#2c92e0" stroke-width="1.5" fill="none"/>
<path d="M468.3 58.9V66.9M465.6 58.9h5.4M465.6 66.9h5.4" stroke="#36dca0" stroke-width="1.25" fill="none"/>
<path d="M468.3 57.2L472 64.05H464.6Z" stroke="#36dca0" stroke-width="1.5" fill="none"/>
<path d="M476.7 50.1V56.1M474 50.1h5.4M474 56.1h5.4" stroke="#461046" stroke-width="1.25" fill="none"/>
<path d="M473 53.1h7.4M476.7 49.4v7.4" stroke="#461046" stroke-width="1.5" fill="none"/>
<path d="M476.7 58.1V71.1M474 58.1h5.4M474 71.1h5.4" stroke="#36dca0" stroke-width="1.25" fill="none"/>
<path d="M476.7 61.4L480.4 68.24H473Z" stroke="#36dca0" stroke-width="1.5" fill="none"/>
<path d="M485.1 56.7V66.3M482.4 56.7h5.4M482.4 66.3h5.4" stroke="#461046" stroke-width="1.25" fill="none"/>
<path d="M481.4 60.3h7.4M485.1 56.6v7.4" stroke="#461046" stroke-width="1.5" fill="none"/>
<path d="M483.9 72.6V74.6M481.2 72.6h5.4M481.2 74.6h5.4" stroke="#36dca0" stroke-width="1.25" fill="none"/>
<path d="M483.9 69.9L487.6 76.74H480.2Z" stroke="#36dca0" stroke-width="1.5" fill="none"/>
<path d="M493 66.9V72.9M490.3 66.9h5.4M490.3 72.9h5.4" stroke="#461046" stroke-width="1.25" fill="none"/>
<path d="M489.3 69.9h7.4M493 66.2v7.4" stroke="#461046" stroke-width="1.5" fill="none"/>
<path d="M491.1 82.2V84.2M488.4 82.2h5.4M488.4 84.2h5.4" stroke="#36dca0" stroke-width="1.25" fill="none"/>
<path d="M491.1 79.5L494.8 86.34H487.4Z" stroke="#36dca0" stroke-width="1.5" fill="none"/>
<path d="M493 86.2V95.8M490.3 86.2h5.4M490.3 95.8h5.4" stroke="#1f2ec0" stroke-width="1.25" fill="none"/>
<path d="M489.3 91h7.4M493 87.3v7.4" stroke="#1f2ec0" stroke-width="1.5" fill="none"/>
<path d="M500.8 74V78M498.1 74h5.4M498.1 78h5.4" stroke="#461046" stroke-width="1.25" fill="none"/>
<path d="M497.1 76h7.4M500.8 72.3v7.4" stroke="#461046" stroke-width="1.5" fill="none"/>
<path d="M501.4 81.2V85.2M498.7 81.2h5.4M498.7 85.2h5.4" stroke="#2c92e0" stroke-width="1.25" fill="none"/>
<path d="M497.7 79.5l7.4 7.4M497.7 86.9l7.4 -7.4" stroke="#2c92e0" stroke-width="1.5" fill="none"/>
<path d="M501.4 84.6V86.6M498.7 84.6h5.4M498.7 86.6h5.4" stroke="#36dca0" stroke-width="1.25" fill="none"/>
<path d="M501.4 81.9L505.1 88.74H497.7Z" stroke="#36dca0" stroke-width="1.5" fill="none"/>
<path d="M509.8 82V98.3M507.1 82h5.4M507.1 98.3h5.4" stroke="#461046" stroke-width="1.25" fill="none"/>
<path d="M506.1 85.6h7.4M509.8 81.9v7.4" stroke="#461046" stroke-width="1.5" fill="none"/>
<path d="M508 102.7V104.7M505.3 102.7h5.4M505.3 104.7h5.4" stroke="#36dca0" stroke-width="1.25" fill="none"/>
<path d="M508 100L511.7 106.84H504.3Z" stroke="#36dca0" stroke-width="1.5" fill="none"/>
<path d="M517.7 102.5V116.3M515 102.5h5.4M515 116.3h5.4" stroke="#461046" stroke-width="1.25" fill="none"/>
<path d="M514 109.1h7.4M517.7 105.4v7.4" stroke="#461046" stroke-width="1.5" fill="none"/>
</g>
<clipPath id="c01"><rect x="63" y="232.5" width="251.91" height="153.5"/></clipPath>
<g clip-path="url(#c01)">
<path d="M63 248.84 L65 249.1 L67 249.36 L69 249.62 L71 249.88 L73 250.14 L75 250.4 L77 250.66 L79 250.92 L81 251.18 L83 251.44 L85 251.69 L87 251.95 L89 252.21 L91 252.47 L93 252.73 L95 252.99 L97 253.25 L99 253.51 L101 253.77 L103 254.03 L105 254.29 L107 254.55 L109 254.81 L111 255.06 L113 255.32 L115 255.58 L117 255.84 L119 256.1 L121 256.36 L123 256.62 L125 256.88 L127 257.14 L129 257.4 L131 257.66 L133 257.92 L135 258.17 L137 258.43 L139 258.69 L141 258.95 L143 259.21 L145 259.47 L147 259.73 L149 259.99 L151 260.25 L153 260.51 L155 260.77 L157 261.03 L159 261.3 L161 261.56 L163 261.83 L165 262.11 L167 262.4 L169 262.7 L171 263.02 L173 263.37 L175 263.78 L177 264.26 L179 264.84 L181 265.55 L183 266.42 L185 267.47 L187 268.71 L189 270.13 L191 271.68 L193 273.36 L195 275.12 L197 276.94 L199 278.8 L201 280.69 L203 282.59 L205 284.51 L207 286.43 L209 288.36 L211 290.3 L213 292.23 L215 294.17 L217 296.11 L219 298.04 L221 299.98 L223 301.92 L225 303.86 L227 305.79 L229 307.73 L231 309.67 L233 311.61 L235 313.55 L237 315.49 L239 317.42 L241 319.36 L243 321.3 L245 323.24 L247 325.18 L249 327.12 L251 329.06 L253 330.99 L255 332.93 L257 334.87 L259 336.81 L261 338.75 L263 340.69 L265 342.62 L267 344.56 L269 346.5 L271 348.44 L273 350.38 L275 352.32 L277 354.25 L279 356.19 L281 358.13 L283 360.07 L285 362.01 L287 363.95 L289 365.88 L291 367.82 L293 369.76 L295 371.7 L297 373.64 L299 375.58 L301 377.52 L303 379.45 L305 381.39 L306.25 382.6" stroke="#dc0c16" stroke-width="1.9" fill="none" stroke-linejoin="round"/>
<path d="M63 245.99 L65 246.25 L67 246.51 L69 246.77 L71 247.03 L73 247.29 L75 247.55 L77 247.82 L79 248.08 L81 248.34 L83 248.6 L85 248.86 L87 249.12 L89 249.38 L91 249.64 L93 249.9 L95 250.16 L97 250.42 L99 250.68 L101 250.94 L103 251.2 L105 251.46 L107 251.72 L109 251.98 L111 252.24 L113 252.5 L115 252.76 L117 253.03 L119 253.29 L121 253.55 L123 253.81 L125 254.07 L127 254.33 L129 254.6 L131 254.86 L133 255.12 L135 255.39 L137 255.65 L139 255.92 L141 256.19 L143 256.46 L145 256.74 L147 257.02 L149 257.3 L151 257.59 L153 257.89 L155 258.2 L157 258.53 L159 258.87 L161 259.23 L163 259.62 L165 260.04 L167 260.5 L169 261.01 L171 261.57 L173 262.21 L175 262.92 L177 263.73 L179 264.63 L181 265.63 L183 266.75 L185 267.98 L187 269.32 L189 270.77 L191 272.32 L193 273.95 L195 275.66 L197 277.44 L199 279.28 L201 281.17 L203 283.1 L205 285.06 L207 287.05 L209 289.05 L211 291.08 L213 293.12 L215 295.17 L217 297.22 L219 299.29 L221 301.36 L223 303.43 L225 305.5 L227 307.58 L229 309.66 L231 311.75 L233 313.83 L235 315.92 L237 318 L239 320.09 L241 322.17 L243 324.26 L245 326.35 L247 328.43 L249 330.52 L251 332.61 L253 334.7 L255 336.78 L257 338.87 L259 340.96 L261 343.05 L263 345.14 L265 347.22 L267 349.31 L269 351.4 L271 353.49 L273 355.58 L275 357.66 L277 359.75 L279 361.84 L281 363.93 L283 366.02 L285 368.1 L287 370.19 L289 372.28 L291 374.37 L293 376.46 L295 378.54 L297 380.63 L299 382.72 L301 384.81 L302 385.85" stroke="#c80c1a" stroke-width="1.6" fill="none" stroke-dasharray="4.3 3.2"/>
<path d="M63 246.42 L65 246.68 L67 246.94 L69 247.2 L71 247.46 L73 247.72 L75 247.98 L77 248.24 L79 248.5 L81 248.76 L83 249.02 L85 249.28 L87 249.54 L89 249.8 L91 250.06 L93 250.32 L95 250.58 L97 250.84 L99 251.1 L101 251.36 L103 251.62 L105 251.89 L107 252.15 L109 252.41 L111 252.67 L113 252.93 L115 253.19 L117 253.45 L119 253.71 L121 253.97 L123 254.23 L125 254.49 L127 254.76 L129 255.02 L131 255.29 L133 255.55 L135 255.82 L137 256.09 L139 256.37 L141 256.65 L143 256.93 L145 257.23 L147 257.53 L149 257.85 L151 258.19 L153 258.55 L155 258.93 L157 259.35 L159 259.79 L161 260.25 L163 260.74 L165 261.23 L167 261.72 L169 262.21 L171 262.69 L173 263.17 L175 263.66 L177 264.2 L179 264.82 L181 265.55 L183 266.43 L185 267.49 L187 268.73 L189 270.13 L191 271.69 L193 273.36 L195 275.12 L197 276.94 L199 278.8 L201 280.69 L203 282.59 L205 284.51 L207 286.43 L209 288.36 L211 290.3 L213 292.23 L215 294.17 L217 296.11 L219 298.04 L221 299.98 L223 301.92 L225 303.86 L227 305.79 L229 307.73 L231 309.67 L233 311.61 L235 313.55 L237 315.49 L239 317.42 L241 319.36 L243 321.3 L245 323.24 L247 325.18 L249 327.12 L251 329.06 L253 330.99 L255 332.93 L257 334.87 L259 336.81 L261 338.75 L263 340.69 L265 342.62 L267 344.56 L269 346.5 L271 348.44 L273 350.38 L275 352.32 L277 354.25 L279 356.19 L281 358.13 L283 360.07 L285 362.01 L287 363.95 L289 365.88 L291 367.82 L293 369.76 L295 371.7 L297 373.64 L299 375.58 L301 377.52 L302 378.48" stroke="#dc0c16" stroke-width="1.4" fill="none" stroke-dasharray="5 2 1.5 2"/>
<path d="M144.3 262.6V268.4M141.6 262.6h5.4M141.6 268.4h5.4" stroke="#1f2ec0" stroke-width="1.25" fill="none"/>
<path d="M140.6 265.5h7.4M144.3 261.8v7.4" stroke="#1f2ec0" stroke-width="1.5" fill="none"/>
<path d="M168.8 266.9V269.9M166.1 266.9h5.4M166.1 269.9h5.4" stroke="#1f2ec0" stroke-width="1.25" fill="none"/>
<path d="M165.1 268.4h7.4M168.8 264.7v7.4" stroke="#1f2ec0" stroke-width="1.5" fill="none"/>
<path d="M184.6 269.7V277.7M181.9 269.7h5.4M181.9 277.7h5.4" stroke="#2c92e0" stroke-width="1.25" fill="none"/>
<path d="M180.9 270l7.4 7.4M180.9 277.4l7.4 -7.4" stroke="#2c92e0" stroke-width="1.5" fill="none"/>
<path d="M192.8 266.7V279.5M190.1 266.7h5.4M190.1 279.5h5.4" stroke="#36dca0" stroke-width="1.25" fill="none"/>
<path d="M192.8 268.8L196.5 275.64H189.1Z" stroke="#36dca0" stroke-width="1.5" fill="none"/>
<path d="M193.5 276V278M190.8 276h5.4M190.8 278h5.4" stroke="#36dca0" stroke-width="1.25" fill="none"/>
<path d="M193.5 273.3L197.2 280.14H189.8Z" stroke="#36dca0" stroke-width="1.5" fill="none"/>
<path d="M200.9 276.4V286.4M198.2 276.4h5.4M198.2 286.4h5.4" stroke="#2c92e0" stroke-width="1.25" fill="none"/>
<path d="M197.2 278.7l7.4 7.4M197.2 286.1l7.4 -7.4" stroke="#2c92e0" stroke-width="1.5" fill="none"/>
<path d="M200.8 279.5V281.5M198.1 279.5h5.4M198.1 281.5h5.4" stroke="#36dca0" stroke-width="1.25" fill="none"/>
<path d="M200.8 276.8L204.5 283.64H197.1Z" stroke="#36dca0" stroke-width="1.5" fill="none"/>
<path d="M209 288V294M206.3 288h5.4M206.3 294h5.4" stroke="#36dca0" stroke-width="1.25" fill="none"/>
<path d="M209 287.3L212.7 294.14H205.3Z" stroke="#36dca0" stroke-width="1.5" fill="none"/>
<path d="M217.2 284.3V288.3M214.5 284.3h5.4M214.5 288.3h5.4" stroke="#461046" stroke-width="1.25" fill="none"/>
<path d="M213.5 286.3h7.4M217.2 282.6v7.4" stroke="#461046" stroke-width="1.5" fill="none"/>
<path d="M217.2 289.6V293.6M214.5 289.6h5.4M214.5 293.6h5.4" stroke="#2c92e0" stroke-width="1.25" fill="none"/>
<path d="M213.5 287.9l7.4 7.4M213.5 295.3l7.4 -7.4" stroke="#2c92e0" stroke-width="1.5" fill="none"/>
<path d="M217.2 297V299M214.5 297h5.4M214.5 299h5.4" stroke="#36dca0" stroke-width="1.25" fill="none"/>
<path d="M217.2 294.3L220.9 301.14H213.5Z" stroke="#36dca0" stroke-width="1.5" fill="none"/>
<path d="M225.9 287.3V291.3M223.2 287.3h5.4M223.2 291.3h5.4" stroke="#461046" stroke-width="1.25" fill="none"/>
<path d="M222.2 289.3h7.4M225.9 285.6v7.4" stroke="#461046" stroke-width="1.5" fill="none"/>
<path d="M225.9 302.3V304.3M223.2 302.3h5.4M223.2 304.3h5.4" stroke="#36dca0" stroke-width="1.25" fill="none"/>
<path d="M225.9 299.6L229.6 306.44H222.2Z" stroke="#36dca0" stroke-width="1.5" fill="none"/>
<path d="M225.9 305.3V309.3M223.2 305.3h5.4M223.2 309.3h5.4" stroke="#1f2ec0" stroke-width="1.25" fill="none"/>
<path d="M222.2 307.3h7.4M225.9 303.6v7.4" stroke="#1f2ec0" stroke-width="1.5" fill="none"/>
<path d="M233.5 296.3V304.3M230.8 296.3h5.4M230.8 304.3h5.4" stroke="#461046" stroke-width="1.25" fill="none"/>
<path d="M229.8 300.3h7.4M233.5 296.6v7.4" stroke="#461046" stroke-width="1.5" fill="none"/>
<path d="M233.5 311V313M230.8 311h5.4M230.8 313h5.4" stroke="#36dca0" stroke-width="1.25" fill="none"/>
<path d="M233.5 308.3L237.2 315.14H229.8Z" stroke="#36dca0" stroke-width="1.5" fill="none"/>
<path d="M242.3 303.3V311.3M239.6 303.3h5.4M239.6 311.3h5.4" stroke="#461046" stroke-width="1.25" fill="none"/>
<path d="M238.6 307.3h7.4M242.3 303.6v7.4" stroke="#461046" stroke-width="1.5" fill="none"/>
<path d="M242.3 311V313M239.6 311h5.4M239.6 313h5.4" stroke="#36dca0" stroke-width="1.25" fill="none"/>
<path d="M242.3 308.3L246 315.14H238.6Z" stroke="#36dca0" stroke-width="1.5" fill="none"/>
<path d="M249.8 315V327M247.1 315h5.4M247.1 327h5.4" stroke="#2c92e0" stroke-width="1.25" fill="none"/>
<path d="M246.1 315.3l7.4 7.4M246.1 322.7l7.4 -7.4" stroke="#2c92e0" stroke-width="1.5" fill="none"/>
<path d="M249.8 325V327M247.1 325h5.4M247.1 327h5.4" stroke="#36dca0" stroke-width="1.25" fill="none"/>
<path d="M249.8 322.3L253.5 329.14H246.1Z" stroke="#36dca0" stroke-width="1.5" fill="none"/>
</g>
<clipPath id="c11"><rect x="346.8" y="232.5" width="251.91" height="153.5"/></clipPath>
<g clip-path="url(#c11)">
<path d="M346.8 249.77 L348.8 250.01 L350.8 250.25 L352.8 250.5 L354.8 250.74 L356.8 250.98 L358.8 251.22 L360.8 251.46 L362.8 251.7 L364.8 251.94 L366.8 252.18 L368.8 252.42 L370.8 252.66 L372.8 252.9 L374.8 253.14 L376.8 253.39 L378.8 253.63 L380.8 253.87 L382.8 254.11 L384.8 254.35 L386.8 254.59 L388.8 254.83 L390.8 255.07 L392.8 255.31 L394.8 255.55 L396.8 255.8 L398.8 256.04 L400.8 256.28 L402.8 256.52 L404.8 256.76 L406.8 257 L408.8 257.25 L410.8 257.49 L412.8 257.73 L414.8 257.98 L416.8 258.22 L418.8 258.46 L420.8 258.71 L422.8 258.96 L424.8 259.2 L426.8 259.45 L428.8 259.7 L430.8 259.95 L432.8 260.2 L434.8 260.46 L436.8 260.72 L438.8 260.98 L440.8 261.25 L442.8 261.52 L444.8 261.8 L446.8 262.08 L448.8 262.37 L450.8 262.67 L452.8 262.98 L454.8 263.31 L456.8 263.65 L458.8 264.01 L460.8 264.39 L462.8 264.8 L464.8 265.23 L466.8 265.7 L468.8 266.2 L470.8 266.75 L472.8 267.34 L474.8 267.99 L476.8 268.69 L478.8 269.46 L480.8 270.3 L482.8 271.22 L484.8 272.21 L486.8 273.27 L488.8 274.42 L490.8 275.65 L492.8 276.96 L494.8 278.35 L496.8 279.81 L498.8 281.34 L500.8 282.93 L502.8 284.58 L504.8 286.29 L506.8 288.05 L508.8 289.84 L510.8 291.68 L512.8 293.55 L514.8 295.45 L516.8 297.37 L518.8 299.32 L520.8 301.28 L522.8 303.26 L524.8 305.25 L526.8 307.25 L528.8 309.27 L530.8 311.29 L532.8 313.32 L534.8 315.35 L536.8 317.39 L538.8 319.43 L540.8 321.48 L542.8 323.53 L544.8 325.58 L546.8 327.63 L548.8 329.69 L550.8 331.75 L552.8 333.81 L554.8 335.87 L556.8 337.93 L558.8 339.99 L560.8 342.05 L562.8 344.11 L564.8 346.17 L566.8 348.24 L568.8 350.3 L570.8 352.36 L572.8 354.43 L574.8 356.49 L576.8 358.55 L578.8 360.62 L580.8 362.68 L582.8 364.75 L584.8 366.81 L586.8 368.88 L588.8 370.94 L590.1 372.28" stroke="#dc0c16" stroke-width="1.9" fill="none" stroke-linejoin="round"/>
<path d="M346.8 246.42 L348.8 246.71 L350.8 247 L352.8 247.29 L354.8 247.58 L356.8 247.87 L358.8 248.16 L360.8 248.45 L362.8 248.75 L364.8 249.04 L366.8 249.33 L368.8 249.62 L370.8 249.91 L372.8 250.2 L374.8 250.49 L376.8 250.78 L378.8 251.08 L380.8 251.37 L382.8 251.66 L384.8 251.95 L386.8 252.24 L388.8 252.53 L390.8 252.82 L392.8 253.11 L394.8 253.41 L396.8 253.7 L398.8 253.99 L400.8 254.28 L402.8 254.57 L404.8 254.86 L406.8 255.15 L408.8 255.45 L410.8 255.74 L412.8 256.03 L414.8 256.32 L416.8 256.61 L418.8 256.91 L420.8 257.2 L422.8 257.49 L424.8 257.79 L426.8 258.08 L428.8 258.38 L430.8 258.67 L432.8 258.97 L434.8 259.27 L436.8 259.57 L438.8 259.87 L440.8 260.17 L442.8 260.48 L444.8 260.79 L446.8 261.11 L448.8 261.43 L450.8 261.76 L452.8 262.09 L454.8 262.44 L456.8 262.8 L458.8 263.17 L460.8 263.56 L462.8 263.98 L464.8 264.42 L466.8 264.89 L468.8 265.39 L470.8 265.94 L472.8 266.54 L474.8 267.2 L476.8 267.93 L478.8 268.73 L480.8 269.61 L482.8 270.58 L484.8 271.65 L486.8 272.82 L488.8 274.08 L490.8 275.46 L492.8 276.93 L494.8 278.49 L496.8 280.15 L498.8 281.89 L500.8 283.71 L502.8 285.6 L504.8 287.54 L506.8 289.54 L508.8 291.58 L510.8 293.66 L512.8 295.77 L514.8 297.91 L516.8 300.07 L518.8 302.25 L520.8 304.45 L522.8 306.66 L524.8 308.88 L526.8 311.11 L528.8 313.34 L530.8 315.58 L532.8 317.83 L534.8 320.08 L536.8 322.33 L538.8 324.59 L540.8 326.84 L542.8 329.1 L544.8 331.36 L546.8 333.62 L548.8 335.89 L550.8 338.15 L552.8 340.41 L554.8 342.68 L556.8 344.94 L558.8 347.21 L560.8 349.47 L562.8 351.74 L564.8 354 L566.8 356.27 L568.8 358.54 L570.8 360.8 L572.8 363.07 L574.8 365.33 L576.8 367.6 L578.8 369.87 L580.8 372.13 L582.8 374.4 L584.8 376.66 L586.8 378.93 L588.8 381.2 L588.9 381.31" stroke="#c80c1a" stroke-width="1.6" fill="none" stroke-dasharray="4.3 3.2"/>
<path d="M346.8 246.92 L348.8 247.2 L350.8 247.49 L352.8 247.77 L354.8 248.05 L356.8 248.34 L358.8 248.62 L360.8 248.91 L362.8 249.19 L364.8 249.47 L366.8 249.76 L368.8 250.04 L370.8 250.32 L372.8 250.61 L374.8 250.89 L376.8 251.17 L378.8 251.46 L380.8 251.74 L382.8 252.03 L384.8 252.31 L386.8 252.59 L388.8 252.88 L390.8 253.16 L392.8 253.44 L394.8 253.73 L396.8 254.01 L398.8 254.3 L400.8 254.58 L402.8 254.86 L404.8 255.15 L406.8 255.43 L408.8 255.72 L410.8 256 L412.8 256.29 L414.8 256.57 L416.8 256.86 L418.8 257.14 L420.8 257.43 L422.8 257.71 L424.8 258 L426.8 258.29 L428.8 258.58 L430.8 258.87 L432.8 259.16 L434.8 259.45 L436.8 259.74 L438.8 260.04 L440.8 260.34 L442.8 260.65 L444.8 260.95 L446.8 261.27 L448.8 261.59 L450.8 261.92 L452.8 262.27 L454.8 262.62 L456.8 263 L458.8 263.39 L460.8 263.81 L462.8 264.26 L464.8 264.74 L466.8 265.26 L468.8 265.83 L470.8 266.43 L472.8 267.08 L474.8 267.78 L476.8 268.54 L478.8 269.35 L480.8 270.22 L482.8 271.16 L484.8 272.17 L486.8 273.25 L488.8 274.41 L490.8 275.65 L492.8 276.96 L494.8 278.35 L496.8 279.81 L498.8 281.34 L500.8 282.94 L502.8 284.59 L504.8 286.29 L506.8 288.05 L508.8 289.85 L510.8 291.68 L512.8 293.55 L514.8 295.45 L516.8 297.37 L518.8 299.32 L520.8 301.28 L522.8 303.26 L524.8 305.25 L526.8 307.25 L528.8 309.27 L530.8 311.29 L532.8 313.32 L534.8 315.35 L536.8 317.39 L538.8 319.43 L540.8 321.48 L542.8 323.53 L544.8 325.58 L546.8 327.63 L548.8 329.69 L550.8 331.75 L552.8 333.81 L554.8 335.87 L556.8 337.93 L558.8 339.99 L560.8 342.05 L562.8 344.11 L564.8 346.17 L566.8 348.24 L568.8 350.3 L570.8 352.36 L572.8 354.43 L574.8 356.49 L576.8 358.55 L578.8 360.62 L580.8 362.68 L582.8 364.75 L584.8 366.81 L586.8 368.88 L588.8 370.94 L588.9 371.04" stroke="#dc0c16" stroke-width="1.4" fill="none" stroke-dasharray="5 2 1.5 2"/>
<path d="M452.3 267V271M449.6 267h5.4M449.6 271h5.4" stroke="#1f2ec0" stroke-width="1.25" fill="none"/>
<path d="M448.6 269h7.4M452.3 265.3v7.4" stroke="#1f2ec0" stroke-width="1.5" fill="none"/>
<path d="M476.8 268.8V272.8M474.1 268.8h5.4M474.1 272.8h5.4" stroke="#1f2ec0" stroke-width="1.25" fill="none"/>
<path d="M473.1 270.8h7.4M476.8 267.1v7.4" stroke="#1f2ec0" stroke-width="1.5" fill="none"/>
<path d="M485.1 263V265M482.4 263h5.4M482.4 265h5.4" stroke="#2c92e0" stroke-width="1.25" fill="none"/>
<path d="M481.4 260.3l7.4 7.4M481.4 267.7l7.4 -7.4" stroke="#2c92e0" stroke-width="1.5" fill="none"/>
<path d="M493.2 269.3V273.3M490.5 269.3h5.4M490.5 273.3h5.4" stroke="#40a6e2" stroke-width="1.25" fill="none"/>
<rect x="489.87" y="267.97" width="6.66" height="6.66" stroke="#40a6e2" stroke-width="1.5" fill="none"/>
<path d="M492.7 277.1V281.1M490 277.1h5.4M490 281.1h5.4" stroke="#1f2ec0" stroke-width="1.25" fill="none"/>
<path d="M489 279.1h7.4M492.7 275.4v7.4" stroke="#1f2ec0" stroke-width="1.5" fill="none"/>
<path d="M501.3 274V278M498.6 274h5.4M498.6 278h5.4" stroke="#40a6e2" stroke-width="1.25" fill="none"/>
<rect x="497.97" y="272.67" width="6.66" height="6.66" stroke="#40a6e2" stroke-width="1.5" fill="none"/>
<path d="M500.3 282.5V284.5M497.6 282.5h5.4M497.6 284.5h5.4" stroke="#2c92e0" stroke-width="1.25" fill="none"/>
<path d="M496.6 279.8l7.4 7.4M496.6 287.2l7.4 -7.4" stroke="#2c92e0" stroke-width="1.5" fill="none"/>
<path d="M509.3 280.6V284.6M506.6 280.6h5.4M506.6 284.6h5.4" stroke="#40a6e2" stroke-width="1.25" fill="none"/>
<rect x="505.97" y="279.27" width="6.66" height="6.66" stroke="#40a6e2" stroke-width="1.5" fill="none"/>
<path d="M518 285.7V291.7M515.3 285.7h5.4M515.3 291.7h5.4" stroke="#40a6e2" stroke-width="1.25" fill="none"/>
<rect x="514.67" y="285.37" width="6.66" height="6.66" stroke="#40a6e2" stroke-width="1.5" fill="none"/>
<path d="M508.7 293.7V299.7M506 293.7h5.4M506 299.7h5.4" stroke="#1f2ec0" stroke-width="1.25" fill="none"/>
<path d="M505 296.7h7.4M508.7 293v7.4" stroke="#1f2ec0" stroke-width="1.5" fill="none"/>
<path d="M517.3 299.3V303.3M514.6 299.3h5.4M514.6 303.3h5.4" stroke="#1f2ec0" stroke-width="1.25" fill="none"/>
<path d="M513.6 301.3h7.4M517.3 297.6v7.4" stroke="#1f2ec0" stroke-width="1.5" fill="none"/>
<path d="M526 293V299M523.3 293h5.4M523.3 299h5.4" stroke="#40a6e2" stroke-width="1.25" fill="none"/>
<rect x="522.67" y="292.67" width="6.66" height="6.66" stroke="#40a6e2" stroke-width="1.5" fill="none"/>
<path d="M534 305.7V315.7M531.3 305.7h5.4M531.3 315.7h5.4" stroke="#1f2ec0" stroke-width="1.25" fill="none"/>
<path d="M530.3 310.7h7.4M534 307v7.4" stroke="#1f2ec0" stroke-width="1.5" fill="none"/>
<path d="M542 311V313M539.3 311h5.4M539.3 313h5.4" stroke="#2c92e0" stroke-width="1.25" fill="none"/>
<path d="M538.3 308.3l7.4 7.4M538.3 315.7l7.4 -7.4" stroke="#2c92e0" stroke-width="1.5" fill="none"/>
</g>
<clipPath id="c02"><rect x="63" y="386" width="251.91" height="154.5"/></clipPath>
<g clip-path="url(#c02)">
<path d="M63 406.9 L65 407.15 L67 407.41 L69 407.67 L71 407.92 L73 408.18 L75 408.43 L77 408.69 L79 408.95 L81 409.2 L83 409.46 L85 409.72 L87 409.97 L89 410.23 L91 410.49 L93 410.74 L95 411 L97 411.26 L99 411.51 L101 411.77 L103 412.02 L105 412.28 L107 412.54 L109 412.79 L111 413.05 L113 413.31 L115 413.56 L117 413.82 L119 414.08 L121 414.33 L123 414.59 L125 414.84 L127 415.1 L129 415.36 L131 415.61 L133 415.87 L135 416.13 L137 416.38 L139 416.64 L141 416.9 L143 417.15 L145 417.41 L147 417.67 L149 417.92 L151 418.18 L153 418.44 L155 418.69 L157 418.95 L159 419.21 L161 419.46 L163 419.72 L165 419.98 L167 420.24 L169 420.49 L171 420.75 L173 421.01 L175 421.27 L177 421.54 L179 421.8 L181 422.06 L183 422.33 L185 422.6 L187 422.88 L189 423.16 L191 423.45 L193 423.74 L195 424.05 L197 424.37 L199 424.71 L201 425.08 L203 425.47 L205 425.89 L207 426.36 L209 426.88 L211 427.46 L213 428.11 L215 428.85 L217 429.68 L219 430.61 L221 431.64 L223 432.79 L225 434.06 L227 435.42 L229 436.89 L231 438.45 L233 440.1 L235 441.81 L237 443.59 L239 445.41 L241 447.28 L243 449.18 L245 451.1 L247 453.05 L249 455.02 L251 457 L253 458.99 L255 460.99 L257 463 L259 465.01 L261 467.03 L263 469.05 L265 471.07 L267 473.1 L269 475.12 L271 477.15 L273 479.18 L275 481.2 L277 483.23 L279 485.26 L281 487.29 L283 489.32 L285 491.35 L287 493.38 L289 495.41 L291 497.44 L293 499.47 L295 501.5 L297 503.53 L299 505.57 L301 507.6 L303 509.63 L305 511.66 L306.4 513.08" stroke="#dc0c16" stroke-width="1.9" fill="none" stroke-linejoin="round"/>
<path d="M63 402.41 L65 402.72 L67 403.02 L69 403.33 L71 403.64 L73 403.94 L75 404.25 L77 404.55 L79 404.86 L81 405.17 L83 405.47 L85 405.78 L87 406.08 L89 406.39 L91 406.7 L93 407 L95 407.31 L97 407.61 L99 407.92 L101 408.23 L103 408.53 L105 408.84 L107 409.14 L109 409.45 L111 409.76 L113 410.06 L115 410.37 L117 410.67 L119 410.98 L121 411.29 L123 411.59 L125 411.9 L127 412.2 L129 412.51 L131 412.82 L133 413.12 L135 413.43 L137 413.73 L139 414.04 L141 414.35 L143 414.65 L145 414.96 L147 415.26 L149 415.57 L151 415.88 L153 416.18 L155 416.49 L157 416.79 L159 417.1 L161 417.41 L163 417.71 L165 418.02 L167 418.32 L169 418.63 L171 418.94 L173 419.24 L175 419.55 L177 419.86 L179 420.17 L181 420.48 L183 420.79 L185 421.11 L187 421.43 L189 421.76 L191 422.1 L193 422.45 L195 422.82 L197 423.22 L199 423.66 L201 424.16 L203 424.72 L205 425.38 L207 426.16 L209 427.08 L211 428.16 L213 429.41 L215 430.83 L217 432.4 L219 434.11 L221 435.93 L223 437.83 L225 439.81 L227 441.83 L229 443.89 L231 445.98 L233 448.08 L235 450.19 L237 452.32 L239 454.45 L241 456.58 L243 458.72 L245 460.86 L247 463 L249 465.14 L251 467.29 L253 469.43 L255 471.57 L257 473.72 L259 475.86 L261 478 L263 480.15 L265 482.29 L267 484.44 L269 486.58 L271 488.73 L273 490.87 L275 493.01 L277 495.16 L279 497.3 L281 499.45 L283 501.59 L285 503.73 L287 505.88 L289 508.02 L291 510.17 L293 512.31 L295 514.46 L297 516.6 L299 518.74 L301 520.89 L303 523.03 L305 525.18 L306.4 526.68" stroke="#c80c1a" stroke-width="1.6" fill="none" stroke-dasharray="4.3 3.2"/>
<path d="M63 403.08 L65 403.38 L67 403.68 L69 403.98 L71 404.28 L73 404.58 L75 404.88 L77 405.17 L79 405.47 L81 405.77 L83 406.07 L85 406.37 L87 406.67 L89 406.97 L91 407.26 L93 407.56 L95 407.86 L97 408.16 L99 408.46 L101 408.76 L103 409.06 L105 409.35 L107 409.65 L109 409.95 L111 410.25 L113 410.55 L115 410.85 L117 411.15 L119 411.44 L121 411.74 L123 412.04 L125 412.34 L127 412.64 L129 412.94 L131 413.24 L133 413.53 L135 413.83 L137 414.13 L139 414.43 L141 414.73 L143 415.03 L145 415.33 L147 415.62 L149 415.92 L151 416.22 L153 416.52 L155 416.82 L157 417.12 L159 417.42 L161 417.72 L163 418.02 L165 418.33 L167 418.63 L169 418.94 L171 419.24 L173 419.56 L175 419.87 L177 420.19 L179 420.52 L181 420.86 L183 421.21 L185 421.58 L187 421.95 L189 422.34 L191 422.75 L193 423.16 L195 423.59 L197 424.02 L199 424.45 L201 424.9 L203 425.35 L205 425.83 L207 426.34 L209 426.89 L211 427.49 L213 428.15 L215 428.89 L217 429.72 L219 430.65 L221 431.68 L223 432.83 L225 434.08 L227 435.44 L229 436.91 L231 438.47 L233 440.11 L235 441.82 L237 443.59 L239 445.41 L241 447.28 L243 449.18 L245 451.11 L247 453.06 L249 455.02 L251 457 L253 458.99 L255 461 L257 463 L259 465.01 L261 467.03 L263 469.05 L265 471.07 L267 473.1 L269 475.12 L271 477.15 L273 479.18 L275 481.2 L277 483.23 L279 485.26 L281 487.29 L283 489.32 L285 491.35 L287 493.38 L289 495.41 L291 497.44 L293 499.47 L295 501.5 L297 503.53 L299 505.57 L301 507.6 L303 509.63 L305 511.66 L306.4 513.08" stroke="#dc0c16" stroke-width="1.4" fill="none" stroke-dasharray="5 2 1.5 2"/>
<path d="M192.5 425.5V429.5M189.8 425.5h5.4M189.8 429.5h5.4" stroke="#1f2ec0" stroke-width="1.25" fill="none"/>
<path d="M188.8 427.5h7.4M192.5 423.8v7.4" stroke="#1f2ec0" stroke-width="1.5" fill="none"/>
<path d="M209.2 425.7V427.7M206.5 425.7h5.4M206.5 427.7h5.4" stroke="#1f2ec0" stroke-width="1.25" fill="none"/>
<path d="M205.5 426.7h7.4M209.2 423v7.4" stroke="#1f2ec0" stroke-width="1.5" fill="none"/>
<path d="M217.5 425.8V435M214.8 425.8h5.4M214.8 435h5.4" stroke="#2c92e0" stroke-width="1.25" fill="none"/>
<path d="M213.8 427.1l7.4 7.4M213.8 434.5l7.4 -7.4" stroke="#2c92e0" stroke-width="1.5" fill="none"/>
<path d="M233.3 441.3V445.3M230.6 441.3h5.4M230.6 445.3h5.4" stroke="#1f2ec0" stroke-width="1.25" fill="none"/>
<path d="M229.6 443.3h7.4M233.3 439.6v7.4" stroke="#1f2ec0" stroke-width="1.5" fill="none"/>
<path d="M233.3 437.5V448.3M230.6 437.5h5.4M230.6 448.3h5.4" stroke="#2c92e0" stroke-width="1.25" fill="none"/>
<path d="M229.6 439.6l7.4 7.4M229.6 447l7.4 -7.4" stroke="#2c92e0" stroke-width="1.5" fill="none"/>
<path d="M250 454.5V460.5M247.3 454.5h5.4M247.3 460.5h5.4" stroke="#1f2ec0" stroke-width="1.25" fill="none"/>
<path d="M246.3 457.5h7.4M250 453.8v7.4" stroke="#1f2ec0" stroke-width="1.5" fill="none"/>
<path d="M258.3 453.2V455.2M255.6 453.2h5.4M255.6 455.2h5.4" stroke="#2c92e0" stroke-width="1.25" fill="none"/>
<path d="M254.6 450.5l7.4 7.4M254.6 457.9l7.4 -7.4" stroke="#2c92e0" stroke-width="1.5" fill="none"/>
<path d="M275 469.2V479.2M272.3 469.2h5.4M272.3 479.2h5.4" stroke="#2c92e0" stroke-width="1.25" fill="none"/>
<path d="M271.3 468.8l7.4 7.4M271.3 476.2l7.4 -7.4" stroke="#2c92e0" stroke-width="1.5" fill="none"/>
</g>
<clipPath id="c12"><rect x="346.8" y="386" width="251.91" height="154.5"/></clipPath>
<g clip-path="url(#c12)">
<path d="M346.8 411.55 L348.8 411.78 L350.8 412 L352.8 412.23 L354.8 412.46 L356.8 412.69 L358.8 412.91 L360.8 413.14 L362.8 413.37 L364.8 413.59 L366.8 413.82 L368.8 414.05 L370.8 414.27 L372.8 414.5 L374.8 414.73 L376.8 414.96 L378.8 415.18 L380.8 415.41 L382.8 415.64 L384.8 415.86 L386.8 416.09 L388.8 416.32 L390.8 416.55 L392.8 416.77 L394.8 417 L396.8 417.23 L398.8 417.45 L400.8 417.68 L402.8 417.91 L404.8 418.14 L406.8 418.36 L408.8 418.59 L410.8 418.82 L412.8 419.05 L414.8 419.28 L416.8 419.5 L418.8 419.73 L420.8 419.96 L422.8 420.19 L424.8 420.42 L426.8 420.65 L428.8 420.88 L430.8 421.11 L432.8 421.34 L434.8 421.57 L436.8 421.8 L438.8 422.03 L440.8 422.26 L442.8 422.5 L444.8 422.73 L446.8 422.96 L448.8 423.2 L450.8 423.44 L452.8 423.68 L454.8 423.92 L456.8 424.16 L458.8 424.41 L460.8 424.66 L462.8 424.91 L464.8 425.16 L466.8 425.42 L468.8 425.69 L470.8 425.96 L472.8 426.23 L474.8 426.51 L476.8 426.8 L478.8 427.1 L480.8 427.41 L482.8 427.73 L484.8 428.06 L486.8 428.41 L488.8 428.78 L490.8 429.16 L492.8 429.57 L494.8 429.99 L496.8 430.45 L498.8 430.93 L500.8 431.45 L502.8 432 L504.8 432.58 L506.8 433.21 L508.8 433.89 L510.8 434.61 L512.8 435.39 L514.8 436.22 L516.8 437.1 L518.8 438.05 L520.8 439.05 L522.8 440.12 L524.8 441.25 L526.8 442.45 L528.8 443.71 L530.8 445.02 L532.8 446.4 L534.8 447.84 L536.8 449.33 L538.8 450.88 L540.8 452.47 L542.8 454.11 L544.8 455.8 L546.8 457.52 L548.8 459.28 L550.8 461.08 L552.8 462.9 L554.8 464.75 L556.8 466.62 L558.8 468.52 L560.8 470.44 L562.8 472.37 L564.8 474.32 L566.8 476.28 L568.8 478.25 L570.8 480.24 L572.8 482.23 L574.8 484.24 L576.8 486.25 L578.8 488.26 L580.8 490.28 L582.8 492.31 L584.8 494.34 L586.8 496.38 L588.8 498.42 L589.3 498.93" stroke="#dc0c16" stroke-width="1.9" fill="none" stroke-linejoin="round"/>
<path d="M346.8 406.76 L348.8 407.05 L350.8 407.35 L352.8 407.65 L354.8 407.95 L356.8 408.24 L358.8 408.54 L360.8 408.84 L362.8 409.14 L364.8 409.43 L366.8 409.73 L368.8 410.03 L370.8 410.33 L372.8 410.62 L374.8 410.92 L376.8 411.22 L378.8 411.52 L380.8 411.81 L382.8 412.11 L384.8 412.41 L386.8 412.7 L388.8 413 L390.8 413.3 L392.8 413.6 L394.8 413.89 L396.8 414.19 L398.8 414.49 L400.8 414.79 L402.8 415.08 L404.8 415.38 L406.8 415.68 L408.8 415.98 L410.8 416.27 L412.8 416.57 L414.8 416.87 L416.8 417.17 L418.8 417.46 L420.8 417.76 L422.8 418.06 L424.8 418.36 L426.8 418.65 L428.8 418.95 L430.8 419.25 L432.8 419.55 L434.8 419.84 L436.8 420.14 L438.8 420.44 L440.8 420.74 L442.8 421.04 L444.8 421.33 L446.8 421.63 L448.8 421.93 L450.8 422.23 L452.8 422.53 L454.8 422.83 L456.8 423.13 L458.8 423.43 L460.8 423.74 L462.8 424.04 L464.8 424.35 L466.8 424.65 L468.8 424.96 L470.8 425.28 L472.8 425.59 L474.8 425.92 L476.8 426.24 L478.8 426.58 L480.8 426.92 L482.8 427.27 L484.8 427.64 L486.8 428.02 L488.8 428.42 L490.8 428.85 L492.8 429.3 L494.8 429.79 L496.8 430.31 L498.8 430.88 L500.8 431.51 L502.8 432.2 L504.8 432.97 L506.8 433.81 L508.8 434.74 L510.8 435.77 L512.8 436.9 L514.8 438.14 L516.8 439.49 L518.8 440.94 L520.8 442.49 L522.8 444.14 L524.8 445.88 L526.8 447.71 L528.8 449.6 L530.8 451.57 L532.8 453.59 L534.8 455.65 L536.8 457.76 L538.8 459.91 L540.8 462.08 L542.8 464.27 L544.8 466.49 L546.8 468.72 L548.8 470.97 L550.8 473.22 L552.8 475.49 L554.8 477.76 L556.8 480.04 L558.8 482.33 L560.8 484.61 L562.8 486.9 L564.8 489.2 L566.8 491.49 L568.8 493.79 L570.8 496.09 L572.8 498.39 L574.8 500.69 L576.8 502.99 L578.8 505.29 L580.8 507.59 L582.8 509.89 L584.8 512.19 L586.8 514.5 L588.8 516.8 L589.3 517.38" stroke="#c80c1a" stroke-width="1.6" fill="none" stroke-dasharray="4.3 3.2"/>
<path d="M346.8 407.48 L348.8 407.76 L350.8 408.05 L352.8 408.34 L354.8 408.62 L356.8 408.91 L358.8 409.2 L360.8 409.48 L362.8 409.77 L364.8 410.06 L366.8 410.34 L368.8 410.63 L370.8 410.92 L372.8 411.2 L374.8 411.49 L376.8 411.78 L378.8 412.07 L380.8 412.35 L382.8 412.64 L384.8 412.93 L386.8 413.21 L388.8 413.5 L390.8 413.79 L392.8 414.07 L394.8 414.36 L396.8 414.65 L398.8 414.93 L400.8 415.22 L402.8 415.51 L404.8 415.79 L406.8 416.08 L408.8 416.37 L410.8 416.66 L412.8 416.94 L414.8 417.23 L416.8 417.52 L418.8 417.8 L420.8 418.09 L422.8 418.38 L424.8 418.67 L426.8 418.95 L428.8 419.24 L430.8 419.53 L432.8 419.81 L434.8 420.1 L436.8 420.39 L438.8 420.68 L440.8 420.97 L442.8 421.26 L444.8 421.54 L446.8 421.83 L448.8 422.12 L450.8 422.41 L452.8 422.7 L454.8 423 L456.8 423.29 L458.8 423.58 L460.8 423.88 L462.8 424.17 L464.8 424.47 L466.8 424.77 L468.8 425.08 L470.8 425.39 L472.8 425.7 L474.8 426.02 L476.8 426.34 L478.8 426.68 L480.8 427.02 L482.8 427.38 L484.8 427.75 L486.8 428.13 L488.8 428.54 L490.8 428.97 L492.8 429.42 L494.8 429.89 L496.8 430.39 L498.8 430.91 L500.8 431.47 L502.8 432.04 L504.8 432.65 L506.8 433.3 L508.8 433.98 L510.8 434.7 L512.8 435.47 L514.8 436.3 L516.8 437.17 L518.8 438.11 L520.8 439.11 L522.8 440.17 L524.8 441.29 L526.8 442.48 L528.8 443.73 L530.8 445.04 L532.8 446.42 L534.8 447.85 L536.8 449.34 L538.8 450.89 L540.8 452.48 L542.8 454.12 L544.8 455.8 L546.8 457.52 L548.8 459.28 L550.8 461.08 L552.8 462.9 L554.8 464.75 L556.8 466.62 L558.8 468.52 L560.8 470.44 L562.8 472.37 L564.8 474.32 L566.8 476.28 L568.8 478.25 L570.8 480.24 L572.8 482.23 L574.8 484.24 L576.8 486.25 L578.8 488.26 L580.8 490.28 L582.8 492.31 L584.8 494.34 L586.8 496.38 L588.8 498.42 L589.3 498.93" stroke="#dc0c16" stroke-width="1.4" fill="none" stroke-dasharray="5 2 1.5 2"/>
<path d="M492.5 426.3V430.3M489.8 426.3h5.4M489.8 430.3h5.4" stroke="#40a6e2" stroke-width="1.25" fill="none"/>
<rect x="489.17" y="424.97" width="6.66" height="6.66" stroke="#40a6e2" stroke-width="1.5" fill="none"/>
<path d="M492.5 435.3V441.3M489.8 435.3h5.4M489.8 441.3h5.4" stroke="#1f2ec0" stroke-width="1.25" fill="none"/>
<path d="M488.8 438.3h7.4M492.5 434.6v7.4" stroke="#1f2ec0" stroke-width="1.5" fill="none"/>
<path d="M508.3 430.5V434.5M505.6 430.5h5.4M505.6 434.5h5.4" stroke="#40a6e2" stroke-width="1.25" fill="none"/>
<rect x="504.97" y="429.17" width="6.66" height="6.66" stroke="#40a6e2" stroke-width="1.5" fill="none"/>
<path d="M518.3 432.3V434.3M515.6 432.3h5.4M515.6 434.3h5.4" stroke="#40a6e2" stroke-width="1.25" fill="none"/>
<rect x="514.97" y="429.97" width="6.66" height="6.66" stroke="#40a6e2" stroke-width="1.5" fill="none"/>
<path d="M525.8 435.3V441.3M523.1 435.3h5.4M523.1 441.3h5.4" stroke="#40a6e2" stroke-width="1.25" fill="none"/>
<rect x="522.47" y="434.97" width="6.66" height="6.66" stroke="#40a6e2" stroke-width="1.5" fill="none"/>
<path d="M525 436.7V451.7M522.3 436.7h5.4M522.3 451.7h5.4" stroke="#2c92e0" stroke-width="1.25" fill="none"/>
<path d="M521.3 440.5l7.4 7.4M521.3 447.9l7.4 -7.4" stroke="#2c92e0" stroke-width="1.5" fill="none"/>
<path d="M533.3 442.5V459.2M530.6 442.5h5.4M530.6 459.2h5.4" stroke="#40a6e2" stroke-width="1.25" fill="none"/>
<rect x="529.97" y="446.67" width="6.66" height="6.66" stroke="#40a6e2" stroke-width="1.5" fill="none"/>
<path d="M542.5 448.2V450.2M539.8 448.2h5.4M539.8 450.2h5.4" stroke="#2c92e0" stroke-width="1.25" fill="none"/>
<path d="M538.8 445.5l7.4 7.4M538.8 452.9l7.4 -7.4" stroke="#2c92e0" stroke-width="1.5" fill="none"/>
<path d="M550 457.5V465.8M547.3 457.5h5.4M547.3 465.8h5.4" stroke="#1f2ec0" stroke-width="1.25" fill="none"/>
<path d="M546.3 462.5h7.4M550 458.8v7.4" stroke="#1f2ec0" stroke-width="1.5" fill="none"/>
<path d="M557.5 456.5V458.5M554.8 456.5h5.4M554.8 458.5h5.4" stroke="#2c92e0" stroke-width="1.25" fill="none"/>
<path d="M553.8 453.8l7.4 7.4M553.8 461.2l7.4 -7.4" stroke="#2c92e0" stroke-width="1.5" fill="none"/>
<path d="M550 471.5V483.5M547.3 471.5h5.4M547.3 483.5h5.4" stroke="#1f2ec0" stroke-width="1.25" fill="none"/>
<path d="M546.3 477.5h7.4M550 473.8v7.4" stroke="#1f2ec0" stroke-width="1.5" fill="none"/>
<path d="M565.8 465V478.3M563.1 465h5.4M563.1 478.3h5.4" stroke="#1f2ec0" stroke-width="1.25" fill="none"/>
<path d="M562.1 470.8h7.4M565.8 467.1v7.4" stroke="#1f2ec0" stroke-width="1.5" fill="none"/>
<path d="M574.2 480V491.7M571.5 480h5.4M571.5 491.7h5.4" stroke="#2c92e0" stroke-width="1.25" fill="none"/>
<path d="M570.5 481.3l7.4 7.4M570.5 488.7l7.4 -7.4" stroke="#2c92e0" stroke-width="1.5" fill="none"/>
</g>
<clipPath id="c03"><rect x="63" y="540.5" width="251.91" height="154.2"/></clipPath>
<g clip-path="url(#c03)">
<path d="M63 570.06 L65 570.32 L67 570.59 L69 570.85 L71 571.11 L73 571.37 L75 571.64 L77 571.9 L79 572.16 L81 572.43 L83 572.69 L85 572.95 L87 573.22 L89 573.48 L91 573.74 L93 574 L95 574.27 L97 574.53 L99 574.79 L101 575.06 L103 575.32 L105 575.58 L107 575.85 L109 576.11 L111 576.37 L113 576.63 L115 576.9 L117 577.16 L119 577.42 L121 577.69 L123 577.95 L125 578.21 L127 578.48 L129 578.74 L131 579 L133 579.26 L135 579.53 L137 579.79 L139 580.05 L141 580.32 L143 580.58 L145 580.84 L147 581.11 L149 581.37 L151 581.63 L153 581.89 L155 582.16 L157 582.42 L159 582.68 L161 582.95 L163 583.21 L165 583.47 L167 583.74 L169 584 L171 584.26 L173 584.52 L175 584.79 L177 585.05 L179 585.31 L181 585.58 L183 585.84 L185 586.1 L187 586.37 L189 586.63 L191 586.89 L193 587.16 L195 587.42 L197 587.69 L199 587.95 L201 588.22 L203 588.48 L205 588.75 L207 589.02 L209 589.29 L211 589.56 L213 589.84 L215 590.11 L217 590.4 L219 590.68 L221 590.98 L223 591.28 L225 591.59 L227 591.91 L229 592.25 L231 592.61 L233 593 L235 593.41 L237 593.87 L239 594.36 L241 594.92 L243 595.54 L245 596.23 L247 597 L249 597.87 L251 598.84 L253 599.92 L255 601.1 L257 602.39 L259 603.78 L261 605.27 L263 606.84 L265 608.49 L267 610.21 L269 611.99 L271 613.81 L273 615.68 L275 617.58 L277 619.5 L279 621.45 L281 623.42 L283 625.39 L285 627.38 L287 629.38 L289 631.39 L291 633.4 L293 635.41 L295 637.43 L297 639.45 L299 641.48 L301 643.5 L303 645.53 L305 647.55 L306.7 649.28" stroke="#dc0c16" stroke-width="1.9" fill="none" stroke-linejoin="round"/>
<path d="M63 565.16 L65 565.47 L67 565.78 L69 566.09 L71 566.39 L73 566.7 L75 567.01 L77 567.32 L79 567.63 L81 567.94 L83 568.25 L85 568.56 L87 568.87 L89 569.18 L91 569.49 L93 569.8 L95 570.11 L97 570.42 L99 570.73 L101 571.04 L103 571.34 L105 571.65 L107 571.96 L109 572.27 L111 572.58 L113 572.89 L115 573.2 L117 573.51 L119 573.82 L121 574.13 L123 574.44 L125 574.75 L127 575.06 L129 575.37 L131 575.68 L133 575.99 L135 576.3 L137 576.6 L139 576.91 L141 577.22 L143 577.53 L145 577.84 L147 578.15 L149 578.46 L151 578.77 L153 579.08 L155 579.39 L157 579.7 L159 580.01 L161 580.32 L163 580.63 L165 580.94 L167 581.25 L169 581.56 L171 581.86 L173 582.17 L175 582.48 L177 582.79 L179 583.1 L181 583.41 L183 583.72 L185 584.03 L187 584.34 L189 584.65 L191 584.96 L193 585.27 L195 585.58 L197 585.89 L199 586.2 L201 586.51 L203 586.82 L205 587.13 L207 587.44 L209 587.75 L211 588.06 L213 588.38 L215 588.7 L217 589.03 L219 589.37 L221 589.73 L223 590.12 L225 590.55 L227 591.05 L229 591.65 L231 592.39 L233 593.3 L235 594.41 L237 595.75 L239 597.29 L241 599.01 L243 600.87 L245 602.84 L247 604.87 L249 606.95 L251 609.06 L253 611.19 L255 613.33 L257 615.48 L259 617.64 L261 619.79 L263 621.95 L265 624.11 L267 626.27 L269 628.44 L271 630.6 L273 632.76 L275 634.92 L277 637.08 L279 639.25 L281 641.41 L283 643.57 L285 645.73 L287 647.89 L289 650.05 L291 652.22 L293 654.38 L295 656.54 L297 658.7 L299 660.86 L301 663.03 L303 665.19 L305 667.35 L306.5 668.97" stroke="#c80c1a" stroke-width="1.6" fill="none" stroke-dasharray="4.3 3.2"/>
<path d="M63 565.89 L65 566.19 L67 566.5 L69 566.8 L71 567.1 L73 567.4 L75 567.71 L77 568.01 L79 568.31 L81 568.61 L83 568.92 L85 569.22 L87 569.52 L89 569.82 L91 570.13 L93 570.43 L95 570.73 L97 571.03 L99 571.34 L101 571.64 L103 571.94 L105 572.24 L107 572.55 L109 572.85 L111 573.15 L113 573.45 L115 573.76 L117 574.06 L119 574.36 L121 574.66 L123 574.97 L125 575.27 L127 575.57 L129 575.87 L131 576.18 L133 576.48 L135 576.78 L137 577.08 L139 577.39 L141 577.69 L143 577.99 L145 578.29 L147 578.59 L149 578.9 L151 579.2 L153 579.5 L155 579.8 L157 580.11 L159 580.41 L161 580.71 L163 581.01 L165 581.32 L167 581.62 L169 581.92 L171 582.23 L173 582.53 L175 582.83 L177 583.13 L179 583.44 L181 583.74 L183 584.05 L185 584.35 L187 584.66 L189 584.96 L191 585.27 L193 585.58 L195 585.89 L197 586.21 L199 586.53 L201 586.86 L203 587.19 L205 587.53 L207 587.89 L209 588.25 L211 588.63 L213 589.02 L215 589.41 L217 589.81 L219 590.21 L221 590.61 L223 591.01 L225 591.4 L227 591.79 L229 592.19 L231 592.59 L233 593.01 L235 593.45 L237 593.92 L239 594.43 L241 594.98 L243 595.6 L245 596.28 L247 597.05 L249 597.91 L251 598.87 L253 599.94 L255 601.12 L257 602.4 L259 603.79 L261 605.27 L263 606.85 L265 608.5 L267 610.21 L269 611.99 L271 613.81 L273 615.68 L275 617.58 L277 619.5 L279 621.45 L281 623.42 L283 625.39 L285 627.38 L287 629.38 L289 631.39 L291 633.4 L293 635.41 L295 637.43 L297 639.45 L299 641.48 L301 643.5 L303 645.53 L305 647.55 L306.5 649.07" stroke="#dc0c16" stroke-width="1.4" fill="none" stroke-dasharray="5 2 1.5 2"/>
<path d="M233.4 588.1V591.1M230.7 588.1h5.4M230.7 591.1h5.4" stroke="#1f2ec0" stroke-width="1.25" fill="none"/>
<path d="M229.7 589.6h7.4M233.4 585.9v7.4" stroke="#1f2ec0" stroke-width="1.5" fill="none"/>
<path d="M249.8 597.5V601.5M247.1 597.5h5.4M247.1 601.5h5.4" stroke="#1f2ec0" stroke-width="1.25" fill="none"/>
<path d="M246.1 599.5h7.4M249.8 595.8v7.4" stroke="#1f2ec0" stroke-width="1.5" fill="none"/>
<path d="M266.7 617V624M264 617h5.4M264 624h5.4" stroke="#1f2ec0" stroke-width="1.25" fill="none"/>
<path d="M263 620.5h7.4M266.7 616.8v7.4" stroke="#1f2ec0" stroke-width="1.5" fill="none"/>
<path d="M274.3 613.8V623.8M271.6 613.8h5.4M271.6 623.8h5.4" stroke="#1f2ec0" stroke-width="1.25" fill="none"/>
<path d="M270.6 618.8h7.4M274.3 615.1v7.4" stroke="#1f2ec0" stroke-width="1.5" fill="none"/>
</g>
<clipPath id="c13"><rect x="346.8" y="540.5" width="251.91" height="154.2"/></clipPath>
<g clip-path="url(#c13)">
<path d="M346.8 576.98 L348.8 577.24 L350.8 577.5 L352.8 577.76 L354.8 578.02 L356.8 578.28 L358.8 578.54 L360.8 578.8 L362.8 579.06 L364.8 579.32 L366.8 579.58 L368.8 579.84 L370.8 580.1 L372.8 580.36 L374.8 580.62 L376.8 580.88 L378.8 581.13 L380.8 581.39 L382.8 581.65 L384.8 581.91 L386.8 582.17 L388.8 582.43 L390.8 582.69 L392.8 582.95 L394.8 583.21 L396.8 583.47 L398.8 583.73 L400.8 583.99 L402.8 584.25 L404.8 584.51 L406.8 584.77 L408.8 585.03 L410.8 585.29 L412.8 585.54 L414.8 585.8 L416.8 586.06 L418.8 586.32 L420.8 586.58 L422.8 586.84 L424.8 587.1 L426.8 587.36 L428.8 587.62 L430.8 587.88 L432.8 588.14 L434.8 588.4 L436.8 588.66 L438.8 588.92 L440.8 589.18 L442.8 589.44 L444.8 589.7 L446.8 589.96 L448.8 590.21 L450.8 590.47 L452.8 590.73 L454.8 590.99 L456.8 591.25 L458.8 591.51 L460.8 591.77 L462.8 592.03 L464.8 592.29 L466.8 592.55 L468.8 592.81 L470.8 593.08 L472.8 593.34 L474.8 593.6 L476.8 593.86 L478.8 594.12 L480.8 594.38 L482.8 594.65 L484.8 594.91 L486.8 595.18 L488.8 595.44 L490.8 595.71 L492.8 595.98 L494.8 596.25 L496.8 596.52 L498.8 596.8 L500.8 597.08 L502.8 597.36 L504.8 597.65 L506.8 597.94 L508.8 598.24 L510.8 598.55 L512.8 598.86 L514.8 599.19 L516.8 599.53 L518.8 599.88 L520.8 600.25 L522.8 600.65 L524.8 601.06 L526.8 601.51 L528.8 601.98 L530.8 602.5 L532.8 603.05 L534.8 603.65 L536.8 604.31 L538.8 605.03 L540.8 605.81 L542.8 606.66 L544.8 607.59 L546.8 608.61 L548.8 609.7 L550.8 610.88 L552.8 612.15 L554.8 613.51 L556.8 614.95 L558.8 616.48 L560.8 618.08 L562.8 619.75 L564.8 621.49 L566.8 623.3 L568.8 625.15 L570.8 627.06 L572.8 629.01 L574.8 631 L576.8 633.02 L578.8 635.08 L580.8 637.15 L582.8 639.25 L584.8 641.37 L586.8 643.5 L588.8 645.64 L589.9 646.83" stroke="#dc0c16" stroke-width="1.9" fill="none" stroke-linejoin="round"/>
<path d="M346.8 571.83 L348.8 572.12 L350.8 572.42 L352.8 572.72 L354.8 573.02 L356.8 573.31 L358.8 573.61 L360.8 573.91 L362.8 574.21 L364.8 574.5 L366.8 574.8 L368.8 575.1 L370.8 575.4 L372.8 575.69 L374.8 575.99 L376.8 576.29 L378.8 576.59 L380.8 576.88 L382.8 577.18 L384.8 577.48 L386.8 577.78 L388.8 578.08 L390.8 578.37 L392.8 578.67 L394.8 578.97 L396.8 579.27 L398.8 579.56 L400.8 579.86 L402.8 580.16 L404.8 580.46 L406.8 580.75 L408.8 581.05 L410.8 581.35 L412.8 581.65 L414.8 581.95 L416.8 582.24 L418.8 582.54 L420.8 582.84 L422.8 583.14 L424.8 583.44 L426.8 583.73 L428.8 584.03 L430.8 584.33 L432.8 584.63 L434.8 584.93 L436.8 585.23 L438.8 585.53 L440.8 585.83 L442.8 586.13 L444.8 586.43 L446.8 586.73 L448.8 587.03 L450.8 587.34 L452.8 587.64 L454.8 587.94 L456.8 588.25 L458.8 588.55 L460.8 588.86 L462.8 589.17 L464.8 589.48 L466.8 589.8 L468.8 590.11 L470.8 590.43 L472.8 590.76 L474.8 591.08 L476.8 591.42 L478.8 591.75 L480.8 592.1 L482.8 592.45 L484.8 592.81 L486.8 593.17 L488.8 593.55 L490.8 593.95 L492.8 594.35 L494.8 594.78 L496.8 595.22 L498.8 595.68 L500.8 596.17 L502.8 596.69 L504.8 597.24 L506.8 597.82 L508.8 598.44 L510.8 599.1 L512.8 599.82 L514.8 600.58 L516.8 601.4 L518.8 602.28 L520.8 603.22 L522.8 604.23 L524.8 605.31 L526.8 606.46 L528.8 607.69 L530.8 609 L532.8 610.37 L534.8 611.83 L536.8 613.35 L538.8 614.95 L540.8 616.61 L542.8 618.34 L544.8 620.12 L546.8 621.96 L548.8 623.86 L550.8 625.79 L552.8 627.77 L554.8 629.79 L556.8 631.85 L558.8 633.93 L560.8 636.04 L562.8 638.18 L564.8 640.33 L566.8 642.51 L568.8 644.7 L570.8 646.91 L572.8 649.13 L574.8 651.36 L576.8 653.59 L578.8 655.84 L580.8 658.1 L582.8 660.36 L584.8 662.62 L586.8 664.89 L587.2 665.35" stroke="#c80c1a" stroke-width="1.6" fill="none" stroke-dasharray="4.3 3.2"/>
<path d="M346.8 572.6 L348.8 572.89 L350.8 573.18 L352.8 573.47 L354.8 573.77 L356.8 574.06 L358.8 574.35 L360.8 574.64 L362.8 574.93 L364.8 575.23 L366.8 575.52 L368.8 575.81 L370.8 576.1 L372.8 576.39 L374.8 576.69 L376.8 576.98 L378.8 577.27 L380.8 577.56 L382.8 577.85 L384.8 578.14 L386.8 578.44 L388.8 578.73 L390.8 579.02 L392.8 579.31 L394.8 579.6 L396.8 579.9 L398.8 580.19 L400.8 580.48 L402.8 580.77 L404.8 581.06 L406.8 581.36 L408.8 581.65 L410.8 581.94 L412.8 582.23 L414.8 582.52 L416.8 582.82 L418.8 583.11 L420.8 583.4 L422.8 583.69 L424.8 583.99 L426.8 584.28 L428.8 584.57 L430.8 584.86 L432.8 585.16 L434.8 585.45 L436.8 585.74 L438.8 586.04 L440.8 586.33 L442.8 586.63 L444.8 586.92 L446.8 587.21 L448.8 587.51 L450.8 587.81 L452.8 588.1 L454.8 588.4 L456.8 588.7 L458.8 589 L460.8 589.3 L462.8 589.6 L464.8 589.91 L466.8 590.21 L468.8 590.52 L470.8 590.83 L472.8 591.15 L474.8 591.47 L476.8 591.79 L478.8 592.12 L480.8 592.45 L482.8 592.79 L484.8 593.14 L486.8 593.5 L488.8 593.87 L490.8 594.26 L492.8 594.65 L494.8 595.07 L496.8 595.5 L498.8 595.95 L500.8 596.42 L502.8 596.9 L504.8 597.38 L506.8 597.87 L508.8 598.35 L510.8 598.8 L512.8 599.23 L514.8 599.63 L516.8 600 L518.8 600.36 L520.8 600.71 L522.8 601.06 L524.8 601.43 L526.8 601.82 L528.8 602.25 L530.8 602.71 L532.8 603.23 L534.8 603.8 L536.8 604.43 L538.8 605.12 L540.8 605.88 L542.8 606.72 L544.8 607.64 L546.8 608.64 L548.8 609.73 L550.8 610.9 L552.8 612.17 L554.8 613.52 L556.8 614.96 L558.8 616.48 L560.8 618.08 L562.8 619.75 L564.8 621.5 L566.8 623.3 L568.8 625.16 L570.8 627.06 L572.8 629.01 L574.8 631 L576.8 633.02 L578.8 635.08 L580.8 637.15 L582.8 639.25 L584.8 641.37 L586.8 643.5 L587.2 643.93" stroke="#dc0c16" stroke-width="1.4" fill="none" stroke-dasharray="5 2 1.5 2"/>
</g>
<rect x="63" y="0.5" width="251.91" height="232" fill="none" stroke="#000" stroke-width="1.6"/>
<path d="M63 232.5v-4.6M63 0.5v4.6M67.06 232.5v-2.3M67.06 0.5v2.3M71.13 232.5v-2.3M71.13 0.5v2.3M75.19 232.5v-2.3M75.19 0.5v2.3M79.25 232.5v-2.3M79.25 0.5v2.3M83.31 232.5v-2.3M83.31 0.5v2.3M87.38 232.5v-2.3M87.38 0.5v2.3M91.44 232.5v-2.3M91.44 0.5v2.3M95.5 232.5v-2.3M95.5 0.5v2.3M99.57 232.5v-2.3M99.57 0.5v2.3M103.63 232.5v-4.6M103.63 0.5v4.6M107.69 232.5v-2.3M107.69 0.5v2.3M111.76 232.5v-2.3M111.76 0.5v2.3M115.82 232.5v-2.3M115.82 0.5v2.3M119.88 232.5v-2.3M119.88 0.5v2.3M123.95 232.5v-2.3M123.95 0.5v2.3M128.01 232.5v-2.3M128.01 0.5v2.3M132.07 232.5v-2.3M132.07 0.5v2.3M136.13 232.5v-2.3M136.13 0.5v2.3M140.2 232.5v-2.3M140.2 0.5v2.3M144.26 232.5v-4.6M144.26 0.5v4.6M148.32 232.5v-2.3M148.32 0.5v2.3M152.39 232.5v-2.3M152.39 0.5v2.3M156.45 232.5v-2.3M156.45 0.5v2.3M160.51 232.5v-2.3M160.51 0.5v2.3M164.57 232.5v-2.3M164.57 0.5v2.3M168.64 232.5v-2.3M168.64 0.5v2.3M172.7 232.5v-2.3M172.7 0.5v2.3M176.76 232.5v-2.3M176.76 0.5v2.3M180.83 232.5v-2.3M180.83 0.5v2.3M184.89 232.5v-4.6M184.89 0.5v4.6M188.95 232.5v-2.3M188.95 0.5v2.3M193.02 232.5v-2.3M193.02 0.5v2.3M197.08 232.5v-2.3M197.08 0.5v2.3M201.14 232.5v-2.3M201.14 0.5v2.3M205.21 232.5v-2.3M205.21 0.5v2.3M209.27 232.5v-2.3M209.27 0.5v2.3M213.33 232.5v-2.3M213.33 0.5v2.3M217.39 232.5v-2.3M217.39 0.5v2.3M221.46 232.5v-2.3M221.46 0.5v2.3M225.52 232.5v-4.6M225.52 0.5v4.6M229.58 232.5v-2.3M229.58 0.5v2.3M233.65 232.5v-2.3M233.65 0.5v2.3M237.71 232.5v-2.3M237.71 0.5v2.3M241.77 232.5v-2.3M241.77 0.5v2.3M245.84 232.5v-2.3M245.84 0.5v2.3M249.9 232.5v-2.3M249.9 0.5v2.3M253.96 232.5v-2.3M253.96 0.5v2.3M258.02 232.5v-2.3M258.02 0.5v2.3M262.09 232.5v-2.3M262.09 0.5v2.3M266.15 232.5v-4.6M266.15 0.5v4.6M270.21 232.5v-2.3M270.21 0.5v2.3M274.28 232.5v-2.3M274.28 0.5v2.3M278.34 232.5v-2.3M278.34 0.5v2.3M282.4 232.5v-2.3M282.4 0.5v2.3M286.47 232.5v-2.3M286.47 0.5v2.3M290.53 232.5v-2.3M290.53 0.5v2.3M294.59 232.5v-2.3M294.59 0.5v2.3M298.65 232.5v-2.3M298.65 0.5v2.3M302.72 232.5v-2.3M302.72 0.5v2.3M306.78 232.5v-4.6M306.78 0.5v4.6M310.84 232.5v-2.3M310.84 0.5v2.3M314.91 232.5v-2.3M314.91 0.5v2.3M63 0.5h2.5M314.91 0.5h-2.5M63 11.05h2.5M314.91 11.05h-2.5M63 21.59h2.5M314.91 21.59h-2.5M63 32.14h5M314.91 32.14h-5M63 42.68h2.5M314.91 42.68h-2.5M63 53.23h2.5M314.91 53.23h-2.5M63 63.77h2.5M314.91 63.77h-2.5M63 74.32h5M314.91 74.32h-5M63 84.86h2.5M314.91 84.86h-2.5M63 95.41h2.5M314.91 95.41h-2.5M63 105.95h2.5M314.91 105.95h-2.5M63 116.5h5M314.91 116.5h-5M63 127.05h2.5M314.91 127.05h-2.5M63 137.59h2.5M314.91 137.59h-2.5M63 148.14h2.5M314.91 148.14h-2.5M63 158.68h5M314.91 158.68h-5M63 169.23h2.5M314.91 169.23h-2.5M63 179.77h2.5M314.91 179.77h-2.5M63 190.32h2.5M314.91 190.32h-2.5M63 200.86h5M314.91 200.86h-5M63 211.41h2.5M314.91 211.41h-2.5M63 221.95h2.5M314.91 221.95h-2.5M63 232.5h2.5M314.91 232.5h-2.5" stroke="#000" stroke-width="1.3" fill="none"/>
<text x="58.4" y="37.74" text-anchor="end" font-size="12" stroke="#000" stroke-width="0.3">2</text>
<path d="M42.53 33.64h7.6" stroke="#000" stroke-width="1.1"/>
<text x="58.4" y="79.92" text-anchor="end" font-size="12" stroke="#000" stroke-width="0.3">4</text>
<path d="M42.53 75.82h7.6" stroke="#000" stroke-width="1.1"/>
<text x="58.4" y="122.1" text-anchor="end" font-size="12" stroke="#000" stroke-width="0.3">6</text>
<path d="M42.53 118h7.6" stroke="#000" stroke-width="1.1"/>
<text x="58.4" y="164.28" text-anchor="end" font-size="12" stroke="#000" stroke-width="0.3">8</text>
<path d="M42.53 160.18h7.6" stroke="#000" stroke-width="1.1"/>
<text x="58.4" y="206.46" text-anchor="end" font-size="12" stroke="#000" stroke-width="0.3">10</text>
<path d="M35.06 202.36h7.6" stroke="#000" stroke-width="1.1"/>
<text transform="translate(144.1,16.8) scale(1.07,1)" font-size="12.8" stroke="#000" stroke-width="0.3">0.0</text>
<path d="M177.8 8.2L171.4 10.9L177.8 13.6M171.8 14.8h6M171.8 16.5h6" stroke="#000" stroke-width="1.25" fill="none"/>
<text transform="translate(185,16.8) scale(1.07,1)" font-size="12.8" stroke="#000" stroke-width="0.3">z</text>
<text transform="translate(198,16.8) scale(1.07,1)" font-size="12.8" stroke="#000" stroke-width="0.3">&lt;</text>
<text transform="translate(213.6,16.8) scale(1.07,1)" font-size="12.8" stroke="#000" stroke-width="0.3">0.1</text>
<rect x="346.8" y="0.5" width="251.91" height="232" fill="none" stroke="#000" stroke-width="1.6"/>
<path d="M346.8 232.5v-4.6M346.8 0.5v4.6M350.86 232.5v-2.3M350.86 0.5v2.3M354.93 232.5v-2.3M354.93 0.5v2.3M358.99 232.5v-2.3M358.99 0.5v2.3M363.05 232.5v-2.3M363.05 0.5v2.3M367.12 232.5v-2.3M367.12 0.5v2.3M371.18 232.5v-2.3M371.18 0.5v2.3M375.24 232.5v-2.3M375.24 0.5v2.3M379.3 232.5v-2.3M379.3 0.5v2.3M383.37 232.5v-2.3M383.37 0.5v2.3M387.43 232.5v-4.6M387.43 0.5v4.6M391.49 232.5v-2.3M391.49 0.5v2.3M395.56 232.5v-2.3M395.56 0.5v2.3M399.62 232.5v-2.3M399.62 0.5v2.3M403.68 232.5v-2.3M403.68 0.5v2.3M407.75 232.5v-2.3M407.75 0.5v2.3M411.81 232.5v-2.3M411.81 0.5v2.3M415.87 232.5v-2.3M415.87 0.5v2.3M419.93 232.5v-2.3M419.93 0.5v2.3M424 232.5v-2.3M424 0.5v2.3M428.06 232.5v-4.6M428.06 0.5v4.6M432.12 232.5v-2.3M432.12 0.5v2.3M436.19 232.5v-2.3M436.19 0.5v2.3M440.25 232.5v-2.3M440.25 0.5v2.3M444.31 232.5v-2.3M444.31 0.5v2.3M448.38 232.5v-2.3M448.38 0.5v2.3M452.44 232.5v-2.3M452.44 0.5v2.3M456.5 232.5v-2.3M456.5 0.5v2.3M460.56 232.5v-2.3M460.56 0.5v2.3M464.63 232.5v-2.3M464.63 0.5v2.3M468.69 232.5v-4.6M468.69 0.5v4.6M472.75 232.5v-2.3M472.75 0.5v2.3M476.82 232.5v-2.3M476.82 0.5v2.3M480.88 232.5v-2.3M480.88 0.5v2.3M484.94 232.5v-2.3M484.94 0.5v2.3M489 232.5v-2.3M489 0.5v2.3M493.07 232.5v-2.3M493.07 0.5v2.3M497.13 232.5v-2.3M497.13 0.5v2.3M501.19 232.5v-2.3M501.19 0.5v2.3M505.26 232.5v-2.3M505.26 0.5v2.3M509.32 232.5v-4.6M509.32 0.5v4.6M513.38 232.5v-2.3M513.38 0.5v2.3M517.45 232.5v-2.3M517.45 0.5v2.3M521.51 232.5v-2.3M521.51 0.5v2.3M525.57 232.5v-2.3M525.57 0.5v2.3M529.63 232.5v-2.3M529.63 0.5v2.3M533.7 232.5v-2.3M533.7 0.5v2.3M537.76 232.5v-2.3M537.76 0.5v2.3M541.82 232.5v-2.3M541.82 0.5v2.3M545.89 232.5v-2.3M545.89 0.5v2.3M549.95 232.5v-4.6M549.95 0.5v4.6M554.01 232.5v-2.3M554.01 0.5v2.3M558.08 232.5v-2.3M558.08 0.5v2.3M562.14 232.5v-2.3M562.14 0.5v2.3M566.2 232.5v-2.3M566.2 0.5v2.3M570.26 232.5v-2.3M570.26 0.5v2.3M574.33 232.5v-2.3M574.33 0.5v2.3M578.39 232.5v-2.3M578.39 0.5v2.3M582.45 232.5v-2.3M582.45 0.5v2.3M586.52 232.5v-2.3M586.52 0.5v2.3M590.58 232.5v-4.6M590.58 0.5v4.6M594.64 232.5v-2.3M594.64 0.5v2.3M598.71 232.5v-2.3M598.71 0.5v2.3M346.8 0.5h2.5M598.71 0.5h-2.5M346.8 11.05h2.5M598.71 11.05h-2.5M346.8 21.59h2.5M598.71 21.59h-2.5M346.8 32.14h5M598.71 32.14h-5M346.8 42.68h2.5M598.71 42.68h-2.5M346.8 53.23h2.5M598.71 53.23h-2.5M346.8 63.77h2.5M598.71 63.77h-2.5M346.8 74.32h5M598.71 74.32h-5M346.8 84.86h2.5M598.71 84.86h-2.5M346.8 95.41h2.5M598.71 95.41h-2.5M346.8 105.95h2.5M598.71 105.95h-2.5M346.8 116.5h5M598.71 116.5h-5M346.8 127.05h2.5M598.71 127.05h-2.5M346.8 137.59h2.5M598.71 137.59h-2.5M346.8 148.14h2.5M598.71 148.14h-2.5M346.8 158.68h5M598.71 158.68h-5M346.8 169.23h2.5M598.71 169.23h-2.5M346.8 179.77h2.5M598.71 179.77h-2.5M346.8 190.32h2.5M598.71 190.32h-2.5M346.8 200.86h5M598.71 200.86h-5M346.8 211.41h2.5M598.71 211.41h-2.5M346.8 221.95h2.5M598.71 221.95h-2.5M346.8 232.5h2.5M598.71 232.5h-2.5" stroke="#000" stroke-width="1.3" fill="none"/>
<text x="342.2" y="37.74" text-anchor="end" font-size="12" stroke="#000" stroke-width="0.3">2</text>
<path d="M326.33 33.64h7.6" stroke="#000" stroke-width="1.1"/>
<text x="342.2" y="79.92" text-anchor="end" font-size="12" stroke="#000" stroke-width="0.3">4</text>
<path d="M326.33 75.82h7.6" stroke="#000" stroke-width="1.1"/>
<text x="342.2" y="122.1" text-anchor="end" font-size="12" stroke="#000" stroke-width="0.3">6</text>
<path d="M326.33 118h7.6" stroke="#000" stroke-width="1.1"/>
<text x="342.2" y="164.28" text-anchor="end" font-size="12" stroke="#000" stroke-width="0.3">8</text>
<path d="M326.33 160.18h7.6" stroke="#000" stroke-width="1.1"/>
<text x="342.2" y="206.46" text-anchor="end" font-size="12" stroke="#000" stroke-width="0.3">10</text>
<path d="M318.86 202.36h7.6" stroke="#000" stroke-width="1.1"/>
<text transform="translate(427.9,16.8) scale(1.07,1)" font-size="12.8" stroke="#000" stroke-width="0.3">0.1</text>
<path d="M461.6 8.2L455.2 10.9L461.6 13.6M455.6 14.8h6M455.6 16.5h6" stroke="#000" stroke-width="1.25" fill="none"/>
<text transform="translate(468.8,16.8) scale(1.07,1)" font-size="12.8" stroke="#000" stroke-width="0.3">z</text>
<text transform="translate(481.8,16.8) scale(1.07,1)" font-size="12.8" stroke="#000" stroke-width="0.3">&lt;</text>
<text transform="translate(497.4,16.8) scale(1.07,1)" font-size="12.8" stroke="#000" stroke-width="0.3">0.4</text>
<rect x="63" y="232.5" width="251.91" height="153.5" fill="none" stroke="#000" stroke-width="1.6"/>
<path d="M63 386v-3.2M63 232.5v3.2M67.06 386v-1.6M67.06 232.5v1.6M71.13 386v-1.6M71.13 232.5v1.6M75.19 386v-1.6M75.19 232.5v1.6M79.25 386v-1.6M79.25 232.5v1.6M83.31 386v-1.6M83.31 232.5v1.6M87.38 386v-1.6M87.38 232.5v1.6M91.44 386v-1.6M91.44 232.5v1.6M95.5 386v-1.6M95.5 232.5v1.6M99.57 386v-1.6M99.57 232.5v1.6M103.63 386v-3.2M103.63 232.5v3.2M107.69 386v-1.6M107.69 232.5v1.6M111.76 386v-1.6M111.76 232.5v1.6M115.82 386v-1.6M115.82 232.5v1.6M119.88 386v-1.6M119.88 232.5v1.6M123.95 386v-1.6M123.95 232.5v1.6M128.01 386v-1.6M128.01 232.5v1.6M132.07 386v-1.6M132.07 232.5v1.6M136.13 386v-1.6M136.13 232.5v1.6M140.2 386v-1.6M140.2 232.5v1.6M144.26 386v-3.2M144.26 232.5v3.2M148.32 386v-1.6M148.32 232.5v1.6M152.39 386v-1.6M152.39 232.5v1.6M156.45 386v-1.6M156.45 232.5v1.6M160.51 386v-1.6M160.51 232.5v1.6M164.57 386v-1.6M164.57 232.5v1.6M168.64 386v-1.6M168.64 232.5v1.6M172.7 386v-1.6M172.7 232.5v1.6M176.76 386v-1.6M176.76 232.5v1.6M180.83 386v-1.6M180.83 232.5v1.6M184.89 386v-3.2M184.89 232.5v3.2M188.95 386v-1.6M188.95 232.5v1.6M193.02 386v-1.6M193.02 232.5v1.6M197.08 386v-1.6M197.08 232.5v1.6M201.14 386v-1.6M201.14 232.5v1.6M205.21 386v-1.6M205.21 232.5v1.6M209.27 386v-1.6M209.27 232.5v1.6M213.33 386v-1.6M213.33 232.5v1.6M217.39 386v-1.6M217.39 232.5v1.6M221.46 386v-1.6M221.46 232.5v1.6M225.52 386v-3.2M225.52 232.5v3.2M229.58 386v-1.6M229.58 232.5v1.6M233.65 386v-1.6M233.65 232.5v1.6M237.71 386v-1.6M237.71 232.5v1.6M241.77 386v-1.6M241.77 232.5v1.6M245.84 386v-1.6M245.84 232.5v1.6M249.9 386v-1.6M249.9 232.5v1.6M253.96 386v-1.6M253.96 232.5v1.6M258.02 386v-1.6M258.02 232.5v1.6M262.09 386v-1.6M262.09 232.5v1.6M266.15 386v-3.2M266.15 232.5v3.2M270.21 386v-1.6M270.21 232.5v1.6M274.28 386v-1.6M274.28 232.5v1.6M278.34 386v-1.6M278.34 232.5v1.6M282.4 386v-1.6M282.4 232.5v1.6M286.47 386v-1.6M286.47 232.5v1.6M290.53 386v-1.6M290.53 232.5v1.6M294.59 386v-1.6M294.59 232.5v1.6M298.65 386v-1.6M298.65 232.5v1.6M302.72 386v-1.6M302.72 232.5v1.6M306.78 386v-3.2M306.78 232.5v3.2M310.84 386v-1.6M310.84 232.5v1.6M314.91 386v-1.6M314.91 232.5v1.6M63 232.5h2.5M314.91 232.5h-2.5M63 241.03h2.5M314.91 241.03h-2.5M63 249.56h2.5M314.91 249.56h-2.5M63 258.08h5M314.91 258.08h-5M63 266.61h2.5M314.91 266.61h-2.5M63 275.14h2.5M314.91 275.14h-2.5M63 283.67h2.5M314.91 283.67h-2.5M63 292.19h5M314.91 292.19h-5M63 300.72h2.5M314.91 300.72h-2.5M63 309.25h2.5M314.91 309.25h-2.5M63 317.78h2.5M314.91 317.78h-2.5M63 326.31h5M314.91 326.31h-5M63 334.83h2.5M314.91 334.83h-2.5M63 343.36h2.5M314.91 343.36h-2.5M63 351.89h2.5M314.91 351.89h-2.5M63 360.42h5M314.91 360.42h-5M63 368.94h2.5M314.91 368.94h-2.5M63 377.47h2.5M314.91 377.47h-2.5M63 386h2.5M314.91 386h-2.5" stroke="#000" stroke-width="1.3" fill="none"/>
<text x="58.4" y="263.68" text-anchor="end" font-size="12" stroke="#000" stroke-width="0.3">2</text>
<path d="M42.53 259.58h7.6" stroke="#000" stroke-width="1.1"/>
<text x="58.4" y="297.79" text-anchor="end" font-size="12" stroke="#000" stroke-width="0.3">4</text>
<path d="M42.53 293.69h7.6" stroke="#000" stroke-width="1.1"/>
<text x="58.4" y="331.91" text-anchor="end" font-size="12" stroke="#000" stroke-width="0.3">6</text>
<path d="M42.53 327.81h7.6" stroke="#000" stroke-width="1.1"/>
<text x="58.4" y="366.02" text-anchor="end" font-size="12" stroke="#000" stroke-width="0.3">8</text>
<path d="M42.53 361.92h7.6" stroke="#000" stroke-width="1.1"/>
<text transform="translate(144.1,248.8) scale(1.07,1)" font-size="12.8" stroke="#000" stroke-width="0.3">0.4</text>
<path d="M177.8 240.2L171.4 242.9L177.8 245.6M171.8 246.8h6M171.8 248.5h6" stroke="#000" stroke-width="1.25" fill="none"/>
<text transform="translate(185,248.8) scale(1.07,1)" font-size="12.8" stroke="#000" stroke-width="0.3">z</text>
<text transform="translate(198,248.8) scale(1.07,1)" font-size="12.8" stroke="#000" stroke-width="0.3">&lt;</text>
<text transform="translate(213.6,248.8) scale(1.07,1)" font-size="12.8" stroke="#000" stroke-width="0.3">0.7</text>
<rect x="346.8" y="232.5" width="251.91" height="153.5" fill="none" stroke="#000" stroke-width="1.6"/>
<path d="M346.8 386v-3.2M346.8 232.5v3.2M350.86 386v-1.6M350.86 232.5v1.6M354.93 386v-1.6M354.93 232.5v1.6M358.99 386v-1.6M358.99 232.5v1.6M363.05 386v-1.6M363.05 232.5v1.6M367.12 386v-1.6M367.12 232.5v1.6M371.18 386v-1.6M371.18 232.5v1.6M375.24 386v-1.6M375.24 232.5v1.6M379.3 386v-1.6M379.3 232.5v1.6M383.37 386v-1.6M383.37 232.5v1.6M387.43 386v-3.2M387.43 232.5v3.2M391.49 386v-1.6M391.49 232.5v1.6M395.56 386v-1.6M395.56 232.5v1.6M399.62 386v-1.6M399.62 232.5v1.6M403.68 386v-1.6M403.68 232.5v1.6M407.75 386v-1.6M407.75 232.5v1.6M411.81 386v-1.6M411.81 232.5v1.6M415.87 386v-1.6M415.87 232.5v1.6M419.93 386v-1.6M419.93 232.5v1.6M424 386v-1.6M424 232.5v1.6M428.06 386v-3.2M428.06 232.5v3.2M432.12 386v-1.6M432.12 232.5v1.6M436.19 386v-1.6M436.19 232.5v1.6M440.25 386v-1.6M440.25 232.5v1.6M444.31 386v-1.6M444.31 232.5v1.6M448.38 386v-1.6M448.38 232.5v1.6M452.44 386v-1.6M452.44 232.5v1.6M456.5 386v-1.6M456.5 232.5v1.6M460.56 386v-1.6M460.56 232.5v1.6M464.63 386v-1.6M464.63 232.5v1.6M468.69 386v-3.2M468.69 232.5v3.2M472.75 386v-1.6M472.75 232.5v1.6M476.82 386v-1.6M476.82 232.5v1.6M480.88 386v-1.6M480.88 232.5v1.6M484.94 386v-1.6M484.94 232.5v1.6M489 386v-1.6M489 232.5v1.6M493.07 386v-1.6M493.07 232.5v1.6M497.13 386v-1.6M497.13 232.5v1.6M501.19 386v-1.6M501.19 232.5v1.6M505.26 386v-1.6M505.26 232.5v1.6M509.32 386v-3.2M509.32 232.5v3.2M513.38 386v-1.6M513.38 232.5v1.6M517.45 386v-1.6M517.45 232.5v1.6M521.51 386v-1.6M521.51 232.5v1.6M525.57 386v-1.6M525.57 232.5v1.6M529.63 386v-1.6M529.63 232.5v1.6M533.7 386v-1.6M533.7 232.5v1.6M537.76 386v-1.6M537.76 232.5v1.6M541.82 386v-1.6M541.82 232.5v1.6M545.89 386v-1.6M545.89 232.5v1.6M549.95 386v-3.2M549.95 232.5v3.2M554.01 386v-1.6M554.01 232.5v1.6M558.08 386v-1.6M558.08 232.5v1.6M562.14 386v-1.6M562.14 232.5v1.6M566.2 386v-1.6M566.2 232.5v1.6M570.26 386v-1.6M570.26 232.5v1.6M574.33 386v-1.6M574.33 232.5v1.6M578.39 386v-1.6M578.39 232.5v1.6M582.45 386v-1.6M582.45 232.5v1.6M586.52 386v-1.6M586.52 232.5v1.6M590.58 386v-3.2M590.58 232.5v3.2M594.64 386v-1.6M594.64 232.5v1.6M598.71 386v-1.6M598.71 232.5v1.6M346.8 232.5h2.5M598.71 232.5h-2.5M346.8 241.03h2.5M598.71 241.03h-2.5M346.8 249.56h2.5M598.71 249.56h-2.5M346.8 258.08h5M598.71 258.08h-5M346.8 266.61h2.5M598.71 266.61h-2.5M346.8 275.14h2.5M598.71 275.14h-2.5M346.8 283.67h2.5M598.71 283.67h-2.5M346.8 292.19h5M598.71 292.19h-5M346.8 300.72h2.5M598.71 300.72h-2.5M346.8 309.25h2.5M598.71 309.25h-2.5M346.8 317.78h2.5M598.71 317.78h-2.5M346.8 326.31h5M598.71 326.31h-5M346.8 334.83h2.5M598.71 334.83h-2.5M346.8 343.36h2.5M598.71 343.36h-2.5M346.8 351.89h2.5M598.71 351.89h-2.5M346.8 360.42h5M598.71 360.42h-5M346.8 368.94h2.5M598.71 368.94h-2.5M346.8 377.47h2.5M598.71 377.47h-2.5M346.8 386h2.5M598.71 386h-2.5" stroke="#000" stroke-width="1.3" fill="none"/>
<text x="342.2" y="263.68" text-anchor="end" font-size="12" stroke="#000" stroke-width="0.3">2</text>
<path d="M326.33 259.58h7.6" stroke="#000" stroke-width="1.1"/>
<text x="342.2" y="297.79" text-anchor="end" font-size="12" stroke="#000" stroke-width="0.3">4</text>
<path d="M326.33 293.69h7.6" stroke="#000" stroke-width="1.1"/>
<text x="342.2" y="331.91" text-anchor="end" font-size="12" stroke="#000" stroke-width="0.3">6</text>
<path d="M326.33 327.81h7.6" stroke="#000" stroke-width="1.1"/>
<text x="342.2" y="366.02" text-anchor="end" font-size="12" stroke="#000" stroke-width="0.3">8</text>
<path d="M326.33 361.92h7.6" stroke="#000" stroke-width="1.1"/>
<text transform="translate(427.9,248.8) scale(1.07,1)" font-size="12.8" stroke="#000" stroke-width="0.3">0.7</text>
<path d="M461.6 240.2L455.2 242.9L461.6 245.6M455.6 246.8h6M455.6 248.5h6" stroke="#000" stroke-width="1.25" fill="none"/>
<text transform="translate(468.8,248.8) scale(1.07,1)" font-size="12.8" stroke="#000" stroke-width="0.3">z</text>
<text transform="translate(481.8,248.8) scale(1.07,1)" font-size="12.8" stroke="#000" stroke-width="0.3">&lt;</text>
<text transform="translate(497.4,248.8) scale(1.07,1)" font-size="12.8" stroke="#000" stroke-width="0.3">1.0</text>
<rect x="63" y="386" width="251.91" height="154.5" fill="none" stroke="#000" stroke-width="1.6"/>
<path d="M63 540.5v-3.2M63 386v3.2M67.06 540.5v-1.6M67.06 386v1.6M71.13 540.5v-1.6M71.13 386v1.6M75.19 540.5v-1.6M75.19 386v1.6M79.25 540.5v-1.6M79.25 386v1.6M83.31 540.5v-1.6M83.31 386v1.6M87.38 540.5v-1.6M87.38 386v1.6M91.44 540.5v-1.6M91.44 386v1.6M95.5 540.5v-1.6M95.5 386v1.6M99.57 540.5v-1.6M99.57 386v1.6M103.63 540.5v-3.2M103.63 386v3.2M107.69 540.5v-1.6M107.69 386v1.6M111.76 540.5v-1.6M111.76 386v1.6M115.82 540.5v-1.6M115.82 386v1.6M119.88 540.5v-1.6M119.88 386v1.6M123.95 540.5v-1.6M123.95 386v1.6M128.01 540.5v-1.6M128.01 386v1.6M132.07 540.5v-1.6M132.07 386v1.6M136.13 540.5v-1.6M136.13 386v1.6M140.2 540.5v-1.6M140.2 386v1.6M144.26 540.5v-3.2M144.26 386v3.2M148.32 540.5v-1.6M148.32 386v1.6M152.39 540.5v-1.6M152.39 386v1.6M156.45 540.5v-1.6M156.45 386v1.6M160.51 540.5v-1.6M160.51 386v1.6M164.57 540.5v-1.6M164.57 386v1.6M168.64 540.5v-1.6M168.64 386v1.6M172.7 540.5v-1.6M172.7 386v1.6M176.76 540.5v-1.6M176.76 386v1.6M180.83 540.5v-1.6M180.83 386v1.6M184.89 540.5v-3.2M184.89 386v3.2M188.95 540.5v-1.6M188.95 386v1.6M193.02 540.5v-1.6M193.02 386v1.6M197.08 540.5v-1.6M197.08 386v1.6M201.14 540.5v-1.6M201.14 386v1.6M205.21 540.5v-1.6M205.21 386v1.6M209.27 540.5v-1.6M209.27 386v1.6M213.33 540.5v-1.6M213.33 386v1.6M217.39 540.5v-1.6M217.39 386v1.6M221.46 540.5v-1.6M221.46 386v1.6M225.52 540.5v-3.2M225.52 386v3.2M229.58 540.5v-1.6M229.58 386v1.6M233.65 540.5v-1.6M233.65 386v1.6M237.71 540.5v-1.6M237.71 386v1.6M241.77 540.5v-1.6M241.77 386v1.6M245.84 540.5v-1.6M245.84 386v1.6M249.9 540.5v-1.6M249.9 386v1.6M253.96 540.5v-1.6M253.96 386v1.6M258.02 540.5v-1.6M258.02 386v1.6M262.09 540.5v-1.6M262.09 386v1.6M266.15 540.5v-3.2M266.15 386v3.2M270.21 540.5v-1.6M270.21 386v1.6M274.28 540.5v-1.6M274.28 386v1.6M278.34 540.5v-1.6M278.34 386v1.6M282.4 540.5v-1.6M282.4 386v1.6M286.47 540.5v-1.6M286.47 386v1.6M290.53 540.5v-1.6M290.53 386v1.6M294.59 540.5v-1.6M294.59 386v1.6M298.65 540.5v-1.6M298.65 386v1.6M302.72 540.5v-1.6M302.72 386v1.6M306.78 540.5v-3.2M306.78 386v3.2M310.84 540.5v-1.6M310.84 386v1.6M314.91 540.5v-1.6M314.91 386v1.6M63 386h2.5M314.91 386h-2.5M63 394.58h2.5M314.91 394.58h-2.5M63 403.17h2.5M314.91 403.17h-2.5M63 411.75h5M314.91 411.75h-5M63 420.33h2.5M314.91 420.33h-2.5M63 428.92h2.5M314.91 428.92h-2.5M63 437.5h2.5M314.91 437.5h-2.5M63 446.08h5M314.91 446.08h-5M63 454.67h2.5M314.91 454.67h-2.5M63 463.25h2.5M314.91 463.25h-2.5M63 471.83h2.5M314.91 471.83h-2.5M63 480.42h5M314.91 480.42h-5M63 489h2.5M314.91 489h-2.5M63 497.58h2.5M314.91 497.58h-2.5M63 506.17h2.5M314.91 506.17h-2.5M63 514.75h5M314.91 514.75h-5M63 523.33h2.5M314.91 523.33h-2.5M63 531.92h2.5M314.91 531.92h-2.5M63 540.5h2.5M314.91 540.5h-2.5" stroke="#000" stroke-width="1.3" fill="none"/>
<text x="58.4" y="417.35" text-anchor="end" font-size="12" stroke="#000" stroke-width="0.3">2</text>
<path d="M42.53 413.25h7.6" stroke="#000" stroke-width="1.1"/>
<text x="58.4" y="451.68" text-anchor="end" font-size="12" stroke="#000" stroke-width="0.3">4</text>
<path d="M42.53 447.58h7.6" stroke="#000" stroke-width="1.1"/>
<text x="58.4" y="486.02" text-anchor="end" font-size="12" stroke="#000" stroke-width="0.3">6</text>
<path d="M42.53 481.92h7.6" stroke="#000" stroke-width="1.1"/>
<text x="58.4" y="520.35" text-anchor="end" font-size="12" stroke="#000" stroke-width="0.3">8</text>
<path d="M42.53 516.25h7.6" stroke="#000" stroke-width="1.1"/>
<text transform="translate(144.1,402.3) scale(1.07,1)" font-size="12.8" stroke="#000" stroke-width="0.3">1.0</text>
<path d="M177.8 393.7L171.4 396.4L177.8 399.1M171.8 400.3h6M171.8 402h6" stroke="#000" stroke-width="1.25" fill="none"/>
<text transform="translate(185,402.3) scale(1.07,1)" font-size="12.8" stroke="#000" stroke-width="0.3">z</text>
<text transform="translate(198,402.3) scale(1.07,1)" font-size="12.8" stroke="#000" stroke-width="0.3">&lt;</text>
<text transform="translate(213.6,402.3) scale(1.07,1)" font-size="12.8" stroke="#000" stroke-width="0.3">1.5</text>
<rect x="346.8" y="386" width="251.91" height="154.5" fill="none" stroke="#000" stroke-width="1.6"/>
<path d="M346.8 540.5v-3.2M346.8 386v3.2M350.86 540.5v-1.6M350.86 386v1.6M354.93 540.5v-1.6M354.93 386v1.6M358.99 540.5v-1.6M358.99 386v1.6M363.05 540.5v-1.6M363.05 386v1.6M367.12 540.5v-1.6M367.12 386v1.6M371.18 540.5v-1.6M371.18 386v1.6M375.24 540.5v-1.6M375.24 386v1.6M379.3 540.5v-1.6M379.3 386v1.6M383.37 540.5v-1.6M383.37 386v1.6M387.43 540.5v-3.2M387.43 386v3.2M391.49 540.5v-1.6M391.49 386v1.6M395.56 540.5v-1.6M395.56 386v1.6M399.62 540.5v-1.6M399.62 386v1.6M403.68 540.5v-1.6M403.68 386v1.6M407.75 540.5v-1.6M407.75 386v1.6M411.81 540.5v-1.6M411.81 386v1.6M415.87 540.5v-1.6M415.87 386v1.6M419.93 540.5v-1.6M419.93 386v1.6M424 540.5v-1.6M424 386v1.6M428.06 540.5v-3.2M428.06 386v3.2M432.12 540.5v-1.6M432.12 386v1.6M436.19 540.5v-1.6M436.19 386v1.6M440.25 540.5v-1.6M440.25 386v1.6M444.31 540.5v-1.6M444.31 386v1.6M448.38 540.5v-1.6M448.38 386v1.6M452.44 540.5v-1.6M452.44 386v1.6M456.5 540.5v-1.6M456.5 386v1.6M460.56 540.5v-1.6M460.56 386v1.6M464.63 540.5v-1.6M464.63 386v1.6M468.69 540.5v-3.2M468.69 386v3.2M472.75 540.5v-1.6M472.75 386v1.6M476.82 540.5v-1.6M476.82 386v1.6M480.88 540.5v-1.6M480.88 386v1.6M484.94 540.5v-1.6M484.94 386v1.6M489 540.5v-1.6M489 386v1.6M493.07 540.5v-1.6M493.07 386v1.6M497.13 540.5v-1.6M497.13 386v1.6M501.19 540.5v-1.6M501.19 386v1.6M505.26 540.5v-1.6M505.26 386v1.6M509.32 540.5v-3.2M509.32 386v3.2M513.38 540.5v-1.6M513.38 386v1.6M517.45 540.5v-1.6M517.45 386v1.6M521.51 540.5v-1.6M521.51 386v1.6M525.57 540.5v-1.6M525.57 386v1.6M529.63 540.5v-1.6M529.63 386v1.6M533.7 540.5v-1.6M533.7 386v1.6M537.76 540.5v-1.6M537.76 386v1.6M541.82 540.5v-1.6M541.82 386v1.6M545.89 540.5v-1.6M545.89 386v1.6M549.95 540.5v-3.2M549.95 386v3.2M554.01 540.5v-1.6M554.01 386v1.6M558.08 540.5v-1.6M558.08 386v1.6M562.14 540.5v-1.6M562.14 386v1.6M566.2 540.5v-1.6M566.2 386v1.6M570.26 540.5v-1.6M570.26 386v1.6M574.33 540.5v-1.6M574.33 386v1.6M578.39 540.5v-1.6M578.39 386v1.6M582.45 540.5v-1.6M582.45 386v1.6M586.52 540.5v-1.6M586.52 386v1.6M590.58 540.5v-3.2M590.58 386v3.2M594.64 540.5v-1.6M594.64 386v1.6M598.71 540.5v-1.6M598.71 386v1.6M346.8 386h2.5M598.71 386h-2.5M346.8 394.58h2.5M598.71 394.58h-2.5M346.8 403.17h2.5M598.71 403.17h-2.5M346.8 411.75h5M598.71 411.75h-5M346.8 420.33h2.5M598.71 420.33h-2.5M346.8 428.92h2.5M598.71 428.92h-2.5M346.8 437.5h2.5M598.71 437.5h-2.5M346.8 446.08h5M598.71 446.08h-5M346.8 454.67h2.5M598.71 454.67h-2.5M346.8 463.25h2.5M598.71 463.25h-2.5M346.8 471.83h2.5M598.71 471.83h-2.5M346.8 480.42h5M598.71 480.42h-5M346.8 489h2.5M598.71 489h-2.5M346.8 497.58h2.5M598.71 497.58h-2.5M346.8 506.17h2.5M598.71 506.17h-2.5M346.8 514.75h5M598.71 514.75h-5M346.8 523.33h2.5M598.71 523.33h-2.5M346.8 531.92h2.5M598.71 531.92h-2.5M346.8 540.5h2.5M598.71 540.5h-2.5" stroke="#000" stroke-width="1.3" fill="none"/>
<text x="342.2" y="417.35" text-anchor="end" font-size="12" stroke="#000" stroke-width="0.3">2</text>
<path d="M326.33 413.25h7.6" stroke="#000" stroke-width="1.1"/>
<text x="342.2" y="451.68" text-anchor="end" font-size="12" stroke="#000" stroke-width="0.3">4</text>
<path d="M326.33 447.58h7.6" stroke="#000" stroke-width="1.1"/>
<text x="342.2" y="486.02" text-anchor="end" font-size="12" stroke="#000" stroke-width="0.3">6</text>
<path d="M326.33 481.92h7.6" stroke="#000" stroke-width="1.1"/>
<text x="342.2" y="520.35" text-anchor="end" font-size="12" stroke="#000" stroke-width="0.3">8</text>
<path d="M326.33 516.25h7.6" stroke="#000" stroke-width="1.1"/>
<text transform="translate(427.9,402.3) scale(1.07,1)" font-size="12.8" stroke="#000" stroke-width="0.3">1.5</text>
<path d="M461.6 393.7L455.2 396.4L461.6 399.1M455.6 400.3h6M455.6 402h6" stroke="#000" stroke-width="1.25" fill="none"/>
<text transform="translate(468.8,402.3) scale(1.07,1)" font-size="12.8" stroke="#000" stroke-width="0.3">z</text>
<text transform="translate(481.8,402.3) scale(1.07,1)" font-size="12.8" stroke="#000" stroke-width="0.3">&lt;</text>
<text transform="translate(497.4,402.3) scale(1.07,1)" font-size="12.8" stroke="#000" stroke-width="0.3">2.0</text>
<rect x="63" y="540.5" width="251.91" height="154.2" fill="none" stroke="#000" stroke-width="1.6"/>
<path d="M63 694.7v-3.2M63 540.5v3.2M67.06 694.7v-1.6M67.06 540.5v1.6M71.13 694.7v-1.6M71.13 540.5v1.6M75.19 694.7v-1.6M75.19 540.5v1.6M79.25 694.7v-1.6M79.25 540.5v1.6M83.31 694.7v-1.6M83.31 540.5v1.6M87.38 694.7v-1.6M87.38 540.5v1.6M91.44 694.7v-1.6M91.44 540.5v1.6M95.5 694.7v-1.6M95.5 540.5v1.6M99.57 694.7v-1.6M99.57 540.5v1.6M103.63 694.7v-3.2M103.63 540.5v3.2M107.69 694.7v-1.6M107.69 540.5v1.6M111.76 694.7v-1.6M111.76 540.5v1.6M115.82 694.7v-1.6M115.82 540.5v1.6M119.88 694.7v-1.6M119.88 540.5v1.6M123.95 694.7v-1.6M123.95 540.5v1.6M128.01 694.7v-1.6M128.01 540.5v1.6M132.07 694.7v-1.6M132.07 540.5v1.6M136.13 694.7v-1.6M136.13 540.5v1.6M140.2 694.7v-1.6M140.2 540.5v1.6M144.26 694.7v-3.2M144.26 540.5v3.2M148.32 694.7v-1.6M148.32 540.5v1.6M152.39 694.7v-1.6M152.39 540.5v1.6M156.45 694.7v-1.6M156.45 540.5v1.6M160.51 694.7v-1.6M160.51 540.5v1.6M164.57 694.7v-1.6M164.57 540.5v1.6M168.64 694.7v-1.6M168.64 540.5v1.6M172.7 694.7v-1.6M172.7 540.5v1.6M176.76 694.7v-1.6M176.76 540.5v1.6M180.83 694.7v-1.6M180.83 540.5v1.6M184.89 694.7v-3.2M184.89 540.5v3.2M188.95 694.7v-1.6M188.95 540.5v1.6M193.02 694.7v-1.6M193.02 540.5v1.6M197.08 694.7v-1.6M197.08 540.5v1.6M201.14 694.7v-1.6M201.14 540.5v1.6M205.21 694.7v-1.6M205.21 540.5v1.6M209.27 694.7v-1.6M209.27 540.5v1.6M213.33 694.7v-1.6M213.33 540.5v1.6M217.39 694.7v-1.6M217.39 540.5v1.6M221.46 694.7v-1.6M221.46 540.5v1.6M225.52 694.7v-3.2M225.52 540.5v3.2M229.58 694.7v-1.6M229.58 540.5v1.6M233.65 694.7v-1.6M233.65 540.5v1.6M237.71 694.7v-1.6M237.71 540.5v1.6M241.77 694.7v-1.6M241.77 540.5v1.6M245.84 694.7v-1.6M245.84 540.5v1.6M249.9 694.7v-1.6M249.9 540.5v1.6M253.96 694.7v-1.6M253.96 540.5v1.6M258.02 694.7v-1.6M258.02 540.5v1.6M262.09 694.7v-1.6M262.09 540.5v1.6M266.15 694.7v-3.2M266.15 540.5v3.2M270.21 694.7v-1.6M270.21 540.5v1.6M274.28 694.7v-1.6M274.28 540.5v1.6M278.34 694.7v-1.6M278.34 540.5v1.6M282.4 694.7v-1.6M282.4 540.5v1.6M286.47 694.7v-1.6M286.47 540.5v1.6M290.53 694.7v-1.6M290.53 540.5v1.6M294.59 694.7v-1.6M294.59 540.5v1.6M298.65 694.7v-1.6M298.65 540.5v1.6M302.72 694.7v-1.6M302.72 540.5v1.6M306.78 694.7v-3.2M306.78 540.5v3.2M310.84 694.7v-1.6M310.84 540.5v1.6M314.91 694.7v-1.6M314.91 540.5v1.6M63 540.5h2.5M314.91 540.5h-2.5M63 549.07h2.5M314.91 549.07h-2.5M63 557.63h2.5M314.91 557.63h-2.5M63 566.2h5M314.91 566.2h-5M63 574.77h2.5M314.91 574.77h-2.5M63 583.33h2.5M314.91 583.33h-2.5M63 591.9h2.5M314.91 591.9h-2.5M63 600.47h5M314.91 600.47h-5M63 609.03h2.5M314.91 609.03h-2.5M63 617.6h2.5M314.91 617.6h-2.5M63 626.17h2.5M314.91 626.17h-2.5M63 634.73h5M314.91 634.73h-5M63 643.3h2.5M314.91 643.3h-2.5M63 651.87h2.5M314.91 651.87h-2.5M63 660.43h2.5M314.91 660.43h-2.5M63 669h5M314.91 669h-5M63 677.57h2.5M314.91 677.57h-2.5M63 686.13h2.5M314.91 686.13h-2.5M63 694.7h2.5M314.91 694.7h-2.5" stroke="#000" stroke-width="1.3" fill="none"/>
<text x="58.4" y="571.8" text-anchor="end" font-size="12" stroke="#000" stroke-width="0.3">2</text>
<path d="M42.53 567.7h7.6" stroke="#000" stroke-width="1.1"/>
<text x="58.4" y="606.07" text-anchor="end" font-size="12" stroke="#000" stroke-width="0.3">4</text>
<path d="M42.53 601.97h7.6" stroke="#000" stroke-width="1.1"/>
<text x="58.4" y="640.33" text-anchor="end" font-size="12" stroke="#000" stroke-width="0.3">6</text>
<path d="M42.53 636.23h7.6" stroke="#000" stroke-width="1.1"/>
<text x="58.4" y="674.6" text-anchor="end" font-size="12" stroke="#000" stroke-width="0.3">8</text>
<path d="M42.53 670.5h7.6" stroke="#000" stroke-width="1.1"/>
<text x="63" y="713.2" text-anchor="middle" font-size="12" stroke="#000" stroke-width="0.3">8</text>
<text x="103.63" y="713.2" text-anchor="middle" font-size="12" stroke="#000" stroke-width="0.3">9</text>
<text x="144.26" y="713.2" text-anchor="middle" font-size="12" stroke="#000" stroke-width="0.3">10</text>
<text x="184.89" y="713.2" text-anchor="middle" font-size="12" stroke="#000" stroke-width="0.3">11</text>
<text x="225.52" y="713.2" text-anchor="middle" font-size="12" stroke="#000" stroke-width="0.3">12</text>
<text x="266.15" y="713.2" text-anchor="middle" font-size="12" stroke="#000" stroke-width="0.3">13</text>
<text x="306.78" y="713.2" text-anchor="middle" font-size="12" stroke="#000" stroke-width="0.3">14</text>
<text transform="translate(144.1,556.8) scale(1.07,1)" font-size="12.8" stroke="#000" stroke-width="0.3">2.0</text>
<path d="M177.8 548.2L171.4 550.9L177.8 553.6M171.8 554.8h6M171.8 556.5h6" stroke="#000" stroke-width="1.25" fill="none"/>
<text transform="translate(185,556.8) scale(1.07,1)" font-size="12.8" stroke="#000" stroke-width="0.3">z</text>
<text transform="translate(198,556.8) scale(1.07,1)" font-size="12.8" stroke="#000" stroke-width="0.3">&lt;</text>
<text transform="translate(213.6,556.8) scale(1.07,1)" font-size="12.8" stroke="#000" stroke-width="0.3">2.5</text>
<rect x="346.8" y="540.5" width="251.91" height="154.2" fill="none" stroke="#000" stroke-width="1.6"/>
<path d="M346.8 694.7v-3.2M346.8 540.5v3.2M350.86 694.7v-1.6M350.86 540.5v1.6M354.93 694.7v-1.6M354.93 540.5v1.6M358.99 694.7v-1.6M358.99 540.5v1.6M363.05 694.7v-1.6M363.05 540.5v1.6M367.12 694.7v-1.6M367.12 540.5v1.6M371.18 694.7v-1.6M371.18 540.5v1.6M375.24 694.7v-1.6M375.24 540.5v1.6M379.3 694.7v-1.6M379.3 540.5v1.6M383.37 694.7v-1.6M383.37 540.5v1.6M387.43 694.7v-3.2M387.43 540.5v3.2M391.49 694.7v-1.6M391.49 540.5v1.6M395.56 694.7v-1.6M395.56 540.5v1.6M399.62 694.7v-1.6M399.62 540.5v1.6M403.68 694.7v-1.6M403.68 540.5v1.6M407.75 694.7v-1.6M407.75 540.5v1.6M411.81 694.7v-1.6M411.81 540.5v1.6M415.87 694.7v-1.6M415.87 540.5v1.6M419.93 694.7v-1.6M419.93 540.5v1.6M424 694.7v-1.6M424 540.5v1.6M428.06 694.7v-3.2M428.06 540.5v3.2M432.12 694.7v-1.6M432.12 540.5v1.6M436.19 694.7v-1.6M436.19 540.5v1.6M440.25 694.7v-1.6M440.25 540.5v1.6M444.31 694.7v-1.6M444.31 540.5v1.6M448.38 694.7v-1.6M448.38 540.5v1.6M452.44 694.7v-1.6M452.44 540.5v1.6M456.5 694.7v-1.6M456.5 540.5v1.6M460.56 694.7v-1.6M460.56 540.5v1.6M464.63 694.7v-1.6M464.63 540.5v1.6M468.69 694.7v-3.2M468.69 540.5v3.2M472.75 694.7v-1.6M472.75 540.5v1.6M476.82 694.7v-1.6M476.82 540.5v1.6M480.88 694.7v-1.6M480.88 540.5v1.6M484.94 694.7v-1.6M484.94 540.5v1.6M489 694.7v-1.6M489 540.5v1.6M493.07 694.7v-1.6M493.07 540.5v1.6M497.13 694.7v-1.6M497.13 540.5v1.6M501.19 694.7v-1.6M501.19 540.5v1.6M505.26 694.7v-1.6M505.26 540.5v1.6M509.32 694.7v-3.2M509.32 540.5v3.2M513.38 694.7v-1.6M513.38 540.5v1.6M517.45 694.7v-1.6M517.45 540.5v1.6M521.51 694.7v-1.6M521.51 540.5v1.6M525.57 694.7v-1.6M525.57 540.5v1.6M529.63 694.7v-1.6M529.63 540.5v1.6M533.7 694.7v-1.6M533.7 540.5v1.6M537.76 694.7v-1.6M537.76 540.5v1.6M541.82 694.7v-1.6M541.82 540.5v1.6M545.89 694.7v-1.6M545.89 540.5v1.6M549.95 694.7v-3.2M549.95 540.5v3.2M554.01 694.7v-1.6M554.01 540.5v1.6M558.08 694.7v-1.6M558.08 540.5v1.6M562.14 694.7v-1.6M562.14 540.5v1.6M566.2 694.7v-1.6M566.2 540.5v1.6M570.26 694.7v-1.6M570.26 540.5v1.6M574.33 694.7v-1.6M574.33 540.5v1.6M578.39 694.7v-1.6M578.39 540.5v1.6M582.45 694.7v-1.6M582.45 540.5v1.6M586.52 694.7v-1.6M586.52 540.5v1.6M590.58 694.7v-3.2M590.58 540.5v3.2M594.64 694.7v-1.6M594.64 540.5v1.6M598.71 694.7v-1.6M598.71 540.5v1.6M346.8 540.5h2.5M598.71 540.5h-2.5M346.8 549.07h2.5M598.71 549.07h-2.5M346.8 557.63h2.5M598.71 557.63h-2.5M346.8 566.2h5M598.71 566.2h-5M346.8 574.77h2.5M598.71 574.77h-2.5M346.8 583.33h2.5M598.71 583.33h-2.5M346.8 591.9h2.5M598.71 591.9h-2.5M346.8 600.47h5M598.71 600.47h-5M346.8 609.03h2.5M598.71 609.03h-2.5M346.8 617.6h2.5M598.71 617.6h-2.5M346.8 626.17h2.5M598.71 626.17h-2.5M346.8 634.73h5M598.71 634.73h-5M346.8 643.3h2.5M598.71 643.3h-2.5M346.8 651.87h2.5M598.71 651.87h-2.5M346.8 660.43h2.5M598.71 660.43h-2.5M346.8 669h5M598.71 669h-5M346.8 677.57h2.5M598.71 677.57h-2.5M346.8 686.13h2.5M598.71 686.13h-2.5M346.8 694.7h2.5M598.71 694.7h-2.5" stroke="#000" stroke-width="1.3" fill="none"/>
<text x="342.2" y="571.8" text-anchor="end" font-size="12" stroke="#000" stroke-width="0.3">2</text>
<path d="M326.33 567.7h7.6" stroke="#000" stroke-width="1.1"/>
<text x="342.2" y="606.07" text-anchor="end" font-size="12" stroke="#000" stroke-width="0.3">4</text>
<path d="M326.33 601.97h7.6" stroke="#000" stroke-width="1.1"/>
<text x="342.2" y="640.33" text-anchor="end" font-size="12" stroke="#000" stroke-width="0.3">6</text>
<path d="M326.33 636.23h7.6" stroke="#000" stroke-width="1.1"/>
<text x="342.2" y="674.6" text-anchor="end" font-size="12" stroke="#000" stroke-width="0.3">8</text>
<path d="M326.33 670.5h7.6" stroke="#000" stroke-width="1.1"/>
<text x="346.8" y="713.2" text-anchor="middle" font-size="12" stroke="#000" stroke-width="0.3">8</text>
<text x="387.43" y="713.2" text-anchor="middle" font-size="12" stroke="#000" stroke-width="0.3">9</text>
<text x="428.06" y="713.2" text-anchor="middle" font-size="12" stroke="#000" stroke-width="0.3">10</text>
<text x="468.69" y="713.2" text-anchor="middle" font-size="12" stroke="#000" stroke-width="0.3">11</text>
<text x="509.32" y="713.2" text-anchor="middle" font-size="12" stroke="#000" stroke-width="0.3">12</text>
<text x="549.95" y="713.2" text-anchor="middle" font-size="12" stroke="#000" stroke-width="0.3">13</text>
<text x="590.58" y="713.2" text-anchor="middle" font-size="12" stroke="#000" stroke-width="0.3">14</text>
<text transform="translate(427.9,556.8) scale(1.07,1)" font-size="12.8" stroke="#000" stroke-width="0.3">2.5</text>
<path d="M461.6 548.2L455.2 550.9L461.6 553.6M455.6 554.8h6M455.6 556.5h6" stroke="#000" stroke-width="1.25" fill="none"/>
<text transform="translate(468.8,556.8) scale(1.07,1)" font-size="12.8" stroke="#000" stroke-width="0.3">z</text>
<text transform="translate(481.8,556.8) scale(1.07,1)" font-size="12.8" stroke="#000" stroke-width="0.3">&lt;</text>
<text transform="translate(497.4,556.8) scale(1.07,1)" font-size="12.8" stroke="#000" stroke-width="0.3">3.5</text>
<text transform="translate(251.8,740.5) scale(1.14,1)" font-size="14.5" >log(L</text>
<text transform="translate(288.3,743.8) scale(1.22,1)" font-size="9.8" >[8&#8722;1000<tspan font-style="italic">&#956;</tspan>m]</text>
<text transform="translate(351.6,740.5) scale(1.06,1)" font-size="14.5" >[L</text>
<circle cx="369.9" cy="740.4" r="3.4" fill="none" stroke="#000" stroke-width="1.0"/><circle cx="369.9" cy="740.4" r="1.02" fill="#000"/>
<text transform="translate(374.6,740.5) scale(1.06,1)" font-size="14.5" >]</text>
<text transform="translate(380.4,740.5) scale(1.06,1)" font-size="14.5" >)</text>
<text transform="translate(14.6,456.6) rotate(-90) scale(1.1,1)" font-size="14.5" >log(&#934;[Mpc</text>
<text transform="translate(6.6,382) rotate(-90)" font-size="10" >&#8722;3</text>
<text transform="translate(14.6,367.6) rotate(-90) scale(1.08,1)" font-size="14.5" >logL</text>
<circle cx="14.5" cy="332.6" r="3" fill="none" stroke="#000" stroke-width="1.0"/><circle cx="14.5" cy="332.6" r="0.9" fill="#000"/>
<text transform="translate(7.1,337) rotate(-90) scale(1.15,1)" font-size="10" >&#8722;1</text>
<text transform="translate(14.6,312.5) rotate(-90) scale(1.06,1)" font-size="14.5" >]</text>
<text transform="translate(14.6,307.6) rotate(-90) scale(1.06,1)" font-size="14.5" >)</text>
</svg></body></html>
